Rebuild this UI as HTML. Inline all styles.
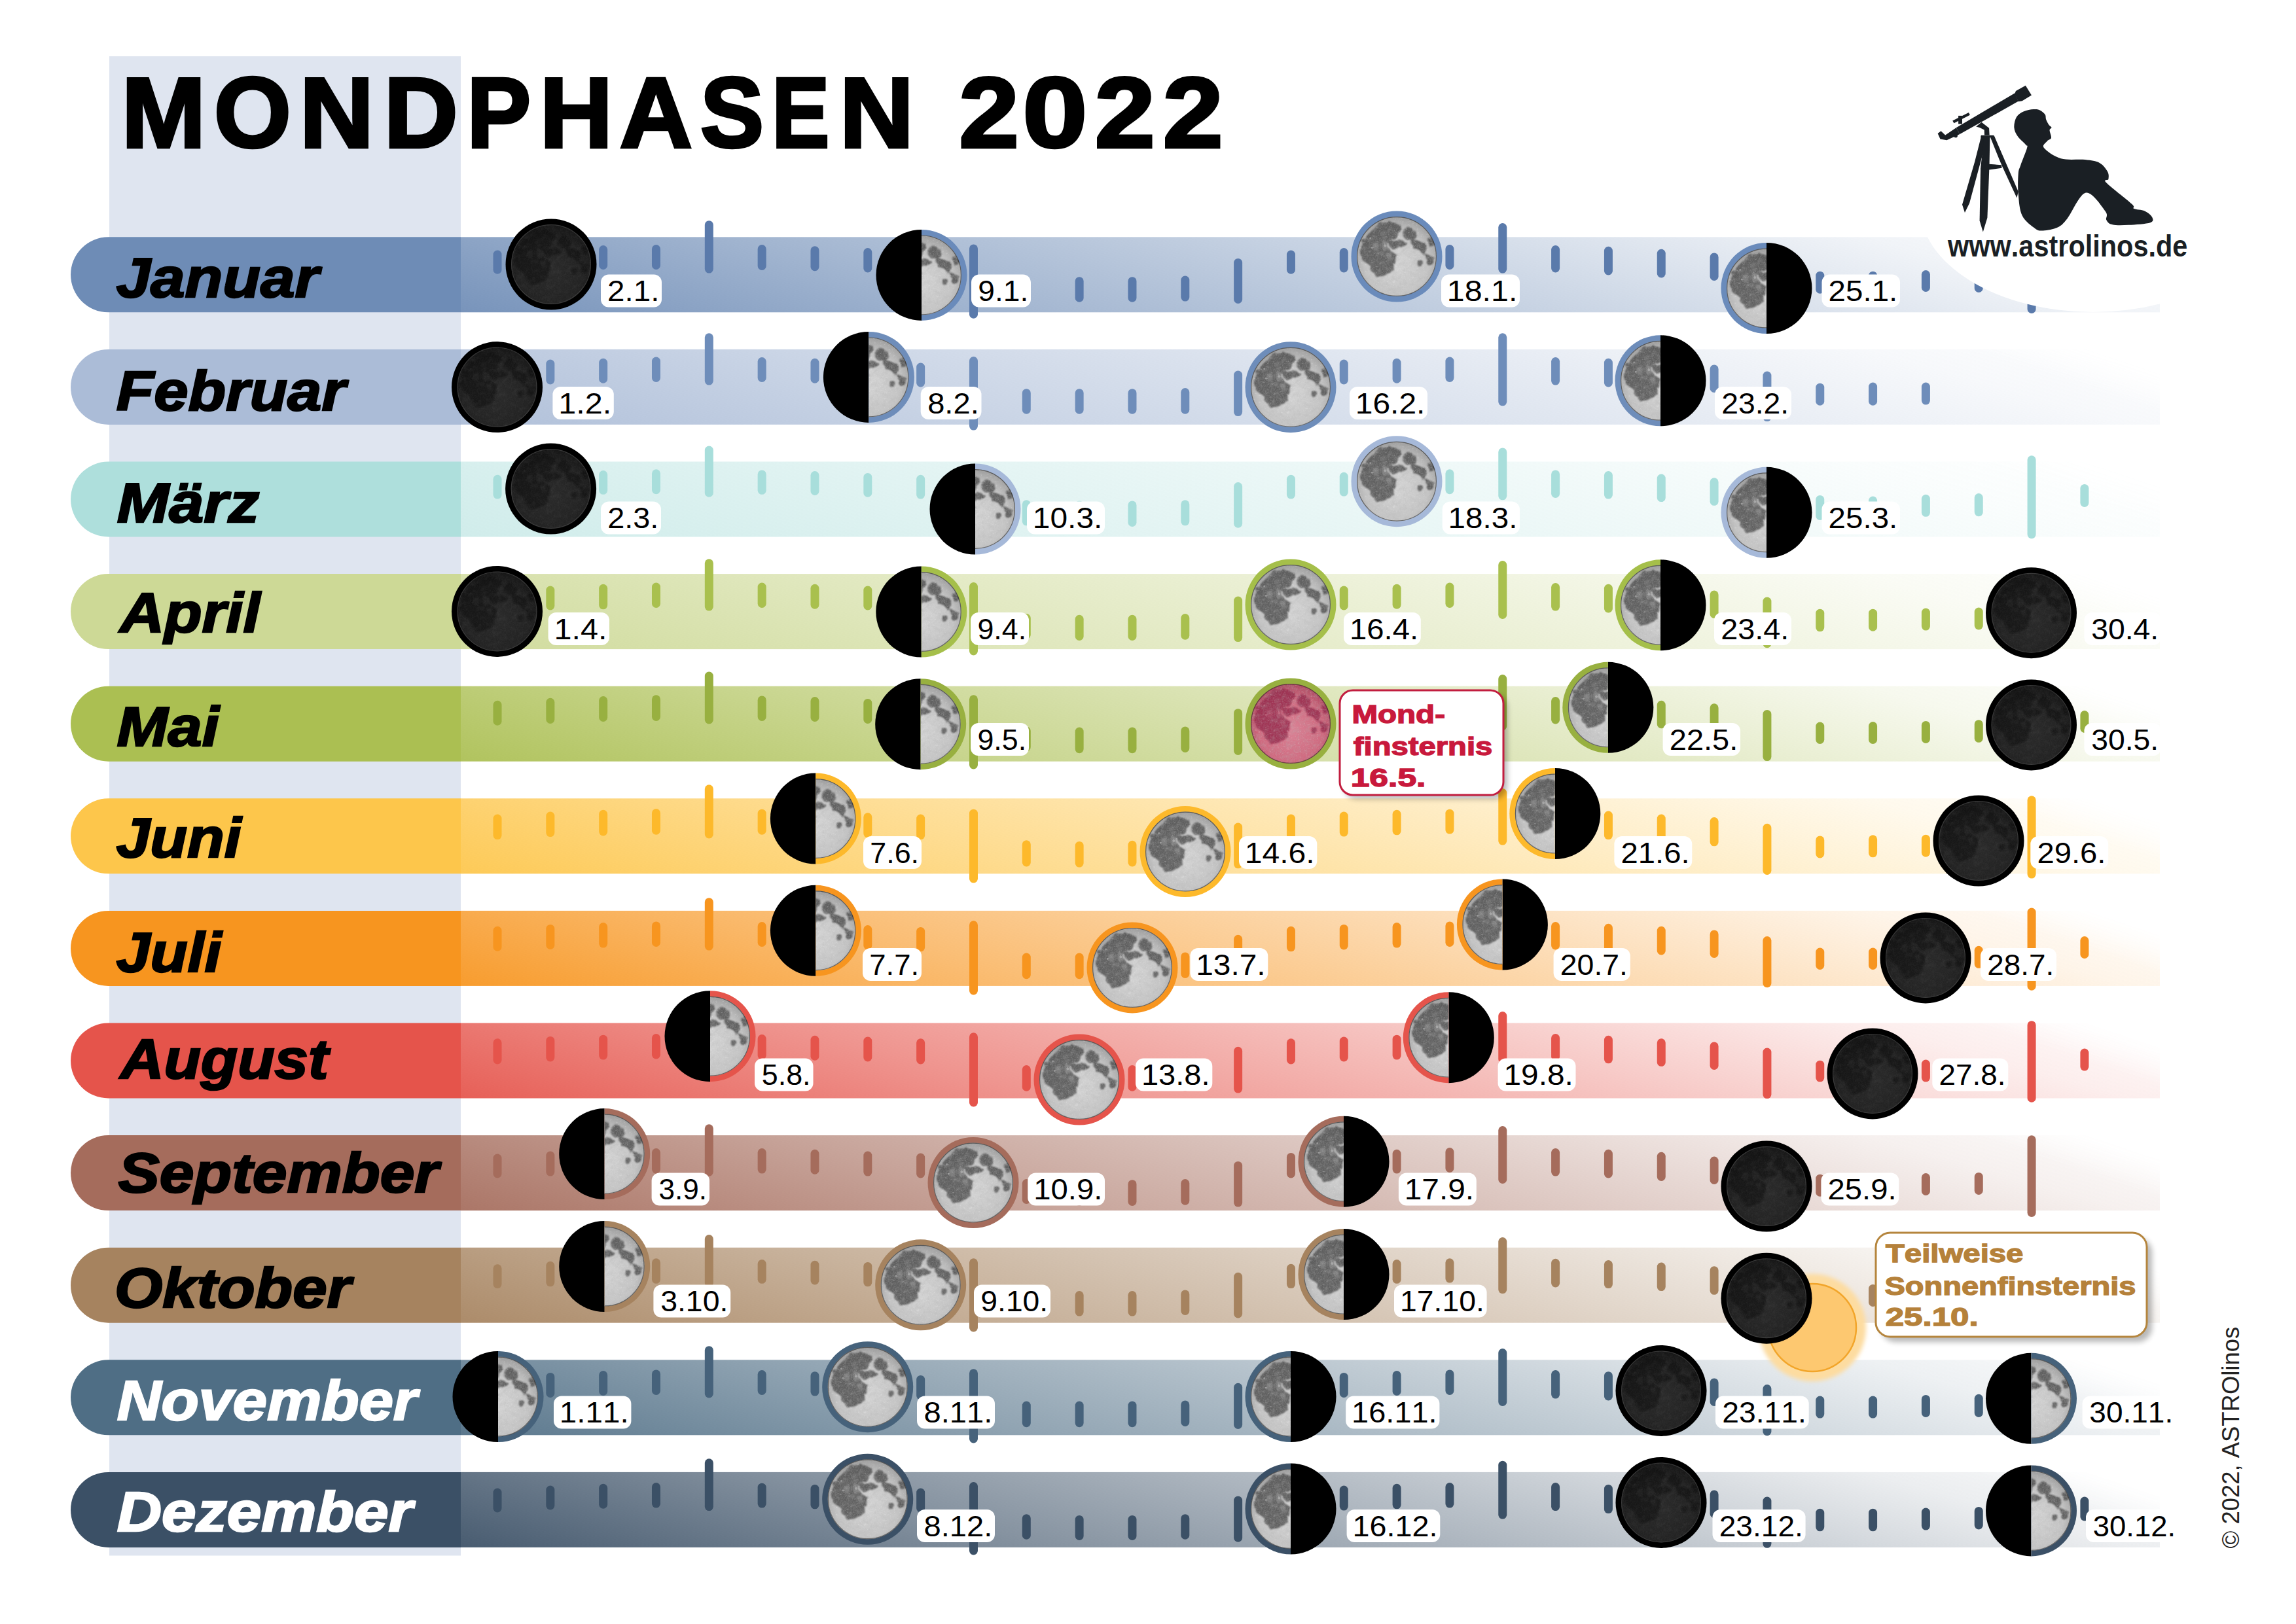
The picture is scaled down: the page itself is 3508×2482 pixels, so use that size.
<!DOCTYPE html><html><head><meta charset="utf-8"><style>html,body{margin:0;padding:0;background:#fff;overflow:hidden;width:3508px;height:2482px}svg{display:block}text{font-family:'Liberation Sans', sans-serif;font-kerning:none}</style></head><body>
<svg width="3508" height="2482" viewBox="0 0 3508 2482">
<defs>
<clipPath id="cmoon"><circle r="61.0"/></clipPath>
<clipPath id="chr"><rect x="0" y="-80" width="80" height="160"/></clipPath>
<clipPath id="chl"><rect x="-80" y="-80" width="80" height="160"/></clipPath>
<filter id="blur2" x="-20%" y="-20%" width="140%" height="140%"><feGaussianBlur stdDeviation="2.2"/></filter>
<filter id="blur05" x="-20%" y="-20%" width="140%" height="140%"><feGaussianBlur stdDeviation="0.6"/></filter>
<filter id="mare" x="-20%" y="-20%" width="140%" height="140%"><feTurbulence type="fractalNoise" baseFrequency="0.09" numOctaves="3" seed="7" result="t"/><feDisplacementMap in="SourceGraphic" in2="t" scale="9" xChannelSelector="R" yChannelSelector="G" result="d"/><feGaussianBlur in="d" stdDeviation="1.1"/></filter>
<filter id="noise2" x="0" y="0" width="100%" height="100%"><feTurbulence type="fractalNoise" baseFrequency="0.13" numOctaves="3" seed="11"/><feColorMatrix type="matrix" values="0 0 0 0 0.45  0 0 0 0 0.45  0 0 0 0 0.45  2.2 0 0 0 -0.95"/></filter>
<filter id="glowblur" x="-30%" y="-30%" width="160%" height="160%"><feGaussianBlur stdDeviation="3"/></filter>
<filter id="noise3" x="0" y="0" width="100%" height="100%"><feTurbulence type="fractalNoise" baseFrequency="0.35" numOctaves="2" seed="5"/><feColorMatrix type="matrix" values="0 0 0 0 1  0 0 0 0 1  0 0 0 0 1  5 0 0 0 -3.1"/></filter>
<filter id="blur1" x="-20%" y="-20%" width="140%" height="140%"><feGaussianBlur stdDeviation="1.8"/></filter>
<filter id="noise" x="0" y="0" width="100%" height="100%"><feTurbulence type="fractalNoise" baseFrequency="0.55" numOctaves="2" seed="3"/><feColorMatrix type="matrix" values="0 0 0 0 0.5  0 0 0 0 0.5  0 0 0 0 0.5  1.6 0 0 0 -0.55"/></filter>
<filter id="blur8" x="-50%" y="-50%" width="200%" height="200%"><feGaussianBlur stdDeviation="7"/></filter>
<filter id="shad" x="-10%" y="-10%" width="130%" height="140%"><feGaussianBlur stdDeviation="4"/></filter>
<radialGradient id="mtNg" cx="0.5" cy="0.58" r="0.56"><stop offset="0" stop-color="#d8d8d8"/><stop offset="0.72" stop-color="#c6c6c6"/><stop offset="1" stop-color="#a0a0a0"/></radialGradient><g id="mtN"><circle r="61.0" fill="url(#mtNg)"/><g clip-path="url(#cmoon)"><g filter="url(#mare)" fill="#4e4e4e" opacity="0.85"><path d="M-27.0,-48.6C-24.1,-49.9 -20.6,-51.3 -16.8,-51.8C-13.0,-52.3 -8.0,-52.4 -4.3,-51.8C-0.7,-51.1 3.2,-49.7 5.1,-47.9C7.0,-46.0 7.3,-43.2 7.0,-40.8C6.8,-38.5 4.9,-35.7 3.5,-33.8C2.2,-31.8 0.5,-30.4 -1.2,-29.1C-2.9,-27.8 -4.8,-27.0 -6.6,-26.0C-8.5,-24.9 -10.9,-24.4 -12.1,-22.8C-13.3,-21.3 -14.2,-18.8 -13.7,-16.6C-13.2,-14.4 -10.8,-11.6 -9.0,-9.5C-7.2,-7.5 -4.1,-6.2 -2.7,-4.1C-1.4,-2.0 -0.8,0.5 -0.8,3.0C-0.7,5.4 -1.8,8.2 -2.3,10.8C-2.9,13.4 -3.2,16.4 -4.3,18.6C-5.4,20.8 -7.2,22.8 -9.0,24.1C-10.8,25.3 -13.4,25.2 -15.2,26.0C-17.1,26.9 -18.1,28.5 -19.9,29.2C-21.8,29.9 -24.1,30.6 -26.2,30.3C-28.3,30.1 -30.6,28.9 -32.5,27.6C-34.3,26.3 -36.1,24.4 -37.1,22.5C-38.2,20.6 -37.5,18.2 -38.7,16.3C-39.9,14.4 -42.2,12.9 -44.2,11.2C-46.1,9.4 -48.7,8.3 -50.4,5.7C-52.1,3.2 -53.6,-0.5 -54.4,-4.1C-55.1,-7.7 -55.4,-12.4 -55.1,-15.8C-54.9,-19.2 -54.2,-21.9 -52.8,-24.4C-51.4,-26.9 -48.6,-28.4 -46.5,-30.7C-44.4,-32.9 -42.4,-35.5 -40.3,-37.7C-38.2,-39.9 -36.2,-42.1 -34.0,-44.0C-31.8,-45.8 -29.8,-47.3 -27.0,-48.6Z"/><path d="M11.3,-43.2C12.6,-45.0 15.9,-45.3 18.4,-44.7C20.9,-44.2 24.2,-42.1 26.2,-40.0C28.2,-38.0 29.7,-34.6 30.1,-32.2C30.5,-29.9 29.8,-27.3 28.5,-26.0C27.2,-24.7 24.6,-24.3 22.3,-24.4C19.9,-24.5 16.4,-25.2 14.5,-26.7C12.5,-28.3 11.1,-31.0 10.6,-33.8C10.0,-36.5 10.0,-41.3 11.3,-43.2Z"/><path d="M22.3,-24.4C23.7,-25.4 27.5,-26.2 30.1,-26.0C32.7,-25.7 35.6,-24.4 37.9,-22.8C40.3,-21.3 42.9,-18.9 44.2,-16.6C45.5,-14.2 46.1,-10.8 45.8,-8.8C45.4,-6.7 43.4,-4.6 41.8,-4.1C40.3,-3.5 38.1,-4.7 36.4,-5.6C34.7,-6.5 33.6,-8.0 31.7,-9.5C29.7,-11.1 26.3,-13.3 24.6,-15.0C22.9,-16.7 21.9,-18.1 21.5,-19.7C21.1,-21.3 20.9,-23.4 22.3,-24.4Z"/><path d="M48.1,-28.3C49.0,-29.9 52.0,-30.5 53.6,-29.9C55.1,-29.2 57.0,-26.5 57.5,-24.4C58.0,-22.3 57.6,-18.8 56.7,-17.4C55.8,-15.9 53.4,-15.3 52.0,-15.8C50.6,-16.3 48.7,-18.4 48.1,-20.5C47.4,-22.6 47.2,-26.7 48.1,-28.3Z"/><path d="M44.2,-4.8C45.0,-6.5 47.7,-4.6 49.7,-3.3C51.6,-2.0 55.0,0.6 55.9,3.0C56.8,5.3 56.2,9.1 55.1,10.8C54.1,12.5 51.4,13.8 49.7,13.1C48.0,12.5 45.9,9.9 45.0,6.9C44.1,3.9 43.4,-3.2 44.2,-4.8Z"/><path d="M33.2,5.3C34.4,4.7 37.4,4.4 38.7,5.3C40.0,6.2 41.2,9.1 41.1,10.8C40.9,12.5 39.2,15.0 37.9,15.5C36.6,16.0 34.3,15.0 33.2,13.9C32.2,12.9 31.7,10.7 31.7,9.2C31.7,7.8 32.1,6.0 33.2,5.3Z"/><path d="M-12.1,-22.8C-10.8,-24.4 -5.1,-24.4 -1.2,-24.4C2.7,-24.4 8.9,-23.9 11.3,-22.8C13.8,-21.8 14.5,-19.7 13.7,-18.1C12.9,-16.6 9.1,-14.4 6.6,-13.5C4.2,-12.5 1.4,-12.4 -1.2,-12.7C-3.8,-12.9 -7.2,-13.3 -9.0,-15.0C-10.8,-16.7 -13.4,-21.3 -12.1,-22.8Z"/></g><g filter="url(#blur1)" fill="#a8a8a8" opacity="0.4"><path d="M-23.1,-21.3C-22.0,-23.1 -17.3,-23.6 -15.2,-22.8C-13.2,-22.1 -10.8,-18.7 -10.6,-16.6C-10.3,-14.5 -11.9,-11.1 -13.7,-10.3C-15.5,-9.5 -19.9,-10.1 -21.5,-11.9C-23.1,-13.7 -24.1,-19.4 -23.1,-21.3Z"/><path d="M-35.6,-19.7C-34.4,-21.1 -30.8,-22.3 -29.3,-21.3C-27.9,-20.2 -26.5,-15.5 -27.0,-13.5C-27.5,-11.4 -30.9,-8.9 -32.5,-8.8C-34.0,-8.6 -35.8,-10.8 -36.4,-12.7C-36.9,-14.5 -36.8,-18.3 -35.6,-19.7Z"/><path d="M-16.8,-4.1C-16.0,-5.6 -10.6,-6.4 -9.0,-5.6C-7.4,-4.8 -6.6,-0.9 -7.4,0.6C-8.2,2.2 -12.1,4.5 -13.7,3.8C-15.2,3.0 -17.6,-2.5 -16.8,-4.1Z"/></g><circle cx="-4.3" cy="38.2" r="2.2" fill="#d8d8d8" opacity="0.8"/><circle cx="-17.7" cy="-16.5" r="2.0" fill="#d8d8d8" opacity="0.45" filter="url(#blur05)"/><circle cx="-37.8" cy="-13.4" r="1.4" fill="#d8d8d8" opacity="0.45" filter="url(#blur05)"/><circle cx="-40.3" cy="-28.1" r="1.3" fill="#d8d8d8" opacity="0.45" filter="url(#blur05)"/><circle cx="6.1" cy="1.2" r="1.2" fill="#d8d8d8" opacity="0.45" filter="url(#blur05)"/><circle cx="21.3" cy="12.2" r="1.0" fill="#d8d8d8" opacity="0.45" filter="url(#blur05)"/><rect x="-62" y="-62" width="124" height="124" filter="url(#noise)" opacity="0.3"/><rect x="-62" y="-62" width="124" height="124" filter="url(#noise2)" opacity="0.3"/><rect x="-62" y="-62" width="124" height="124" filter="url(#noise3)" opacity="0.18"/></g><circle r="60.4" fill="none" stroke="#111" stroke-opacity="0.5" stroke-width="1.2"/></g>
<radialGradient id="mtDg" cx="0.5" cy="0.58" r="0.56"><stop offset="0" stop-color="#2a2a2a"/><stop offset="0.72" stop-color="#232323"/><stop offset="1" stop-color="#171717"/></radialGradient><g id="mtD"><circle r="61.0" fill="url(#mtDg)"/><g clip-path="url(#cmoon)"><g filter="url(#mare)" fill="#0e0e0e" opacity="0.5"><path d="M-27.0,-48.6C-24.1,-49.9 -20.6,-51.3 -16.8,-51.8C-13.0,-52.3 -8.0,-52.4 -4.3,-51.8C-0.7,-51.1 3.2,-49.7 5.1,-47.9C7.0,-46.0 7.3,-43.2 7.0,-40.8C6.8,-38.5 4.9,-35.7 3.5,-33.8C2.2,-31.8 0.5,-30.4 -1.2,-29.1C-2.9,-27.8 -4.8,-27.0 -6.6,-26.0C-8.5,-24.9 -10.9,-24.4 -12.1,-22.8C-13.3,-21.3 -14.2,-18.8 -13.7,-16.6C-13.2,-14.4 -10.8,-11.6 -9.0,-9.5C-7.2,-7.5 -4.1,-6.2 -2.7,-4.1C-1.4,-2.0 -0.8,0.5 -0.8,3.0C-0.7,5.4 -1.8,8.2 -2.3,10.8C-2.9,13.4 -3.2,16.4 -4.3,18.6C-5.4,20.8 -7.2,22.8 -9.0,24.1C-10.8,25.3 -13.4,25.2 -15.2,26.0C-17.1,26.9 -18.1,28.5 -19.9,29.2C-21.8,29.9 -24.1,30.6 -26.2,30.3C-28.3,30.1 -30.6,28.9 -32.5,27.6C-34.3,26.3 -36.1,24.4 -37.1,22.5C-38.2,20.6 -37.5,18.2 -38.7,16.3C-39.9,14.4 -42.2,12.9 -44.2,11.2C-46.1,9.4 -48.7,8.3 -50.4,5.7C-52.1,3.2 -53.6,-0.5 -54.4,-4.1C-55.1,-7.7 -55.4,-12.4 -55.1,-15.8C-54.9,-19.2 -54.2,-21.9 -52.8,-24.4C-51.4,-26.9 -48.6,-28.4 -46.5,-30.7C-44.4,-32.9 -42.4,-35.5 -40.3,-37.7C-38.2,-39.9 -36.2,-42.1 -34.0,-44.0C-31.8,-45.8 -29.8,-47.3 -27.0,-48.6Z"/><path d="M11.3,-43.2C12.6,-45.0 15.9,-45.3 18.4,-44.7C20.9,-44.2 24.2,-42.1 26.2,-40.0C28.2,-38.0 29.7,-34.6 30.1,-32.2C30.5,-29.9 29.8,-27.3 28.5,-26.0C27.2,-24.7 24.6,-24.3 22.3,-24.4C19.9,-24.5 16.4,-25.2 14.5,-26.7C12.5,-28.3 11.1,-31.0 10.6,-33.8C10.0,-36.5 10.0,-41.3 11.3,-43.2Z"/><path d="M22.3,-24.4C23.7,-25.4 27.5,-26.2 30.1,-26.0C32.7,-25.7 35.6,-24.4 37.9,-22.8C40.3,-21.3 42.9,-18.9 44.2,-16.6C45.5,-14.2 46.1,-10.8 45.8,-8.8C45.4,-6.7 43.4,-4.6 41.8,-4.1C40.3,-3.5 38.1,-4.7 36.4,-5.6C34.7,-6.5 33.6,-8.0 31.7,-9.5C29.7,-11.1 26.3,-13.3 24.6,-15.0C22.9,-16.7 21.9,-18.1 21.5,-19.7C21.1,-21.3 20.9,-23.4 22.3,-24.4Z"/><path d="M48.1,-28.3C49.0,-29.9 52.0,-30.5 53.6,-29.9C55.1,-29.2 57.0,-26.5 57.5,-24.4C58.0,-22.3 57.6,-18.8 56.7,-17.4C55.8,-15.9 53.4,-15.3 52.0,-15.8C50.6,-16.3 48.7,-18.4 48.1,-20.5C47.4,-22.6 47.2,-26.7 48.1,-28.3Z"/><path d="M44.2,-4.8C45.0,-6.5 47.7,-4.6 49.7,-3.3C51.6,-2.0 55.0,0.6 55.9,3.0C56.8,5.3 56.2,9.1 55.1,10.8C54.1,12.5 51.4,13.8 49.7,13.1C48.0,12.5 45.9,9.9 45.0,6.9C44.1,3.9 43.4,-3.2 44.2,-4.8Z"/><path d="M33.2,5.3C34.4,4.7 37.4,4.4 38.7,5.3C40.0,6.2 41.2,9.1 41.1,10.8C40.9,12.5 39.2,15.0 37.9,15.5C36.6,16.0 34.3,15.0 33.2,13.9C32.2,12.9 31.7,10.7 31.7,9.2C31.7,7.8 32.1,6.0 33.2,5.3Z"/><path d="M-12.1,-22.8C-10.8,-24.4 -5.1,-24.4 -1.2,-24.4C2.7,-24.4 8.9,-23.9 11.3,-22.8C13.8,-21.8 14.5,-19.7 13.7,-18.1C12.9,-16.6 9.1,-14.4 6.6,-13.5C4.2,-12.5 1.4,-12.4 -1.2,-12.7C-3.8,-12.9 -7.2,-13.3 -9.0,-15.0C-10.8,-16.7 -13.4,-21.3 -12.1,-22.8Z"/></g><g filter="url(#blur1)" fill="#2e2e2e" opacity="0.4"><path d="M-23.1,-21.3C-22.0,-23.1 -17.3,-23.6 -15.2,-22.8C-13.2,-22.1 -10.8,-18.7 -10.6,-16.6C-10.3,-14.5 -11.9,-11.1 -13.7,-10.3C-15.5,-9.5 -19.9,-10.1 -21.5,-11.9C-23.1,-13.7 -24.1,-19.4 -23.1,-21.3Z"/><path d="M-35.6,-19.7C-34.4,-21.1 -30.8,-22.3 -29.3,-21.3C-27.9,-20.2 -26.5,-15.5 -27.0,-13.5C-27.5,-11.4 -30.9,-8.9 -32.5,-8.8C-34.0,-8.6 -35.8,-10.8 -36.4,-12.7C-36.9,-14.5 -36.8,-18.3 -35.6,-19.7Z"/><path d="M-16.8,-4.1C-16.0,-5.6 -10.6,-6.4 -9.0,-5.6C-7.4,-4.8 -6.6,-0.9 -7.4,0.6C-8.2,2.2 -12.1,4.5 -13.7,3.8C-15.2,3.0 -17.6,-2.5 -16.8,-4.1Z"/></g><circle cx="-4.3" cy="38.2" r="2.2" fill="#2a2a2a" opacity="0.8"/><circle cx="-17.7" cy="-16.5" r="2.0" fill="#2a2a2a" opacity="0.45" filter="url(#blur05)"/><circle cx="-37.8" cy="-13.4" r="1.4" fill="#2a2a2a" opacity="0.45" filter="url(#blur05)"/><circle cx="-40.3" cy="-28.1" r="1.3" fill="#2a2a2a" opacity="0.45" filter="url(#blur05)"/><circle cx="6.1" cy="1.2" r="1.2" fill="#2a2a2a" opacity="0.45" filter="url(#blur05)"/><circle cx="21.3" cy="12.2" r="1.0" fill="#2a2a2a" opacity="0.45" filter="url(#blur05)"/><rect x="-62" y="-62" width="124" height="124" filter="url(#noise)" opacity="0.06"/><rect x="-62" y="-62" width="124" height="124" filter="url(#noise2)" opacity="0.06"/></g><circle r="60.4" fill="none" stroke="#555" stroke-opacity="0.5" stroke-width="1.2"/></g>
<radialGradient id="mtRg" cx="0.5" cy="0.58" r="0.56"><stop offset="0" stop-color="#dc8094"/><stop offset="0.72" stop-color="#d0687e"/><stop offset="1" stop-color="#b04a62"/></radialGradient><g id="mtR"><circle r="61.0" fill="url(#mtRg)"/><g clip-path="url(#cmoon)"><g filter="url(#mare)" fill="#94284a" opacity="0.8"><path d="M-27.0,-48.6C-24.1,-49.9 -20.6,-51.3 -16.8,-51.8C-13.0,-52.3 -8.0,-52.4 -4.3,-51.8C-0.7,-51.1 3.2,-49.7 5.1,-47.9C7.0,-46.0 7.3,-43.2 7.0,-40.8C6.8,-38.5 4.9,-35.7 3.5,-33.8C2.2,-31.8 0.5,-30.4 -1.2,-29.1C-2.9,-27.8 -4.8,-27.0 -6.6,-26.0C-8.5,-24.9 -10.9,-24.4 -12.1,-22.8C-13.3,-21.3 -14.2,-18.8 -13.7,-16.6C-13.2,-14.4 -10.8,-11.6 -9.0,-9.5C-7.2,-7.5 -4.1,-6.2 -2.7,-4.1C-1.4,-2.0 -0.8,0.5 -0.8,3.0C-0.7,5.4 -1.8,8.2 -2.3,10.8C-2.9,13.4 -3.2,16.4 -4.3,18.6C-5.4,20.8 -7.2,22.8 -9.0,24.1C-10.8,25.3 -13.4,25.2 -15.2,26.0C-17.1,26.9 -18.1,28.5 -19.9,29.2C-21.8,29.9 -24.1,30.6 -26.2,30.3C-28.3,30.1 -30.6,28.9 -32.5,27.6C-34.3,26.3 -36.1,24.4 -37.1,22.5C-38.2,20.6 -37.5,18.2 -38.7,16.3C-39.9,14.4 -42.2,12.9 -44.2,11.2C-46.1,9.4 -48.7,8.3 -50.4,5.7C-52.1,3.2 -53.6,-0.5 -54.4,-4.1C-55.1,-7.7 -55.4,-12.4 -55.1,-15.8C-54.9,-19.2 -54.2,-21.9 -52.8,-24.4C-51.4,-26.9 -48.6,-28.4 -46.5,-30.7C-44.4,-32.9 -42.4,-35.5 -40.3,-37.7C-38.2,-39.9 -36.2,-42.1 -34.0,-44.0C-31.8,-45.8 -29.8,-47.3 -27.0,-48.6Z"/><path d="M11.3,-43.2C12.6,-45.0 15.9,-45.3 18.4,-44.7C20.9,-44.2 24.2,-42.1 26.2,-40.0C28.2,-38.0 29.7,-34.6 30.1,-32.2C30.5,-29.9 29.8,-27.3 28.5,-26.0C27.2,-24.7 24.6,-24.3 22.3,-24.4C19.9,-24.5 16.4,-25.2 14.5,-26.7C12.5,-28.3 11.1,-31.0 10.6,-33.8C10.0,-36.5 10.0,-41.3 11.3,-43.2Z"/><path d="M22.3,-24.4C23.7,-25.4 27.5,-26.2 30.1,-26.0C32.7,-25.7 35.6,-24.4 37.9,-22.8C40.3,-21.3 42.9,-18.9 44.2,-16.6C45.5,-14.2 46.1,-10.8 45.8,-8.8C45.4,-6.7 43.4,-4.6 41.8,-4.1C40.3,-3.5 38.1,-4.7 36.4,-5.6C34.7,-6.5 33.6,-8.0 31.7,-9.5C29.7,-11.1 26.3,-13.3 24.6,-15.0C22.9,-16.7 21.9,-18.1 21.5,-19.7C21.1,-21.3 20.9,-23.4 22.3,-24.4Z"/><path d="M48.1,-28.3C49.0,-29.9 52.0,-30.5 53.6,-29.9C55.1,-29.2 57.0,-26.5 57.5,-24.4C58.0,-22.3 57.6,-18.8 56.7,-17.4C55.8,-15.9 53.4,-15.3 52.0,-15.8C50.6,-16.3 48.7,-18.4 48.1,-20.5C47.4,-22.6 47.2,-26.7 48.1,-28.3Z"/><path d="M44.2,-4.8C45.0,-6.5 47.7,-4.6 49.7,-3.3C51.6,-2.0 55.0,0.6 55.9,3.0C56.8,5.3 56.2,9.1 55.1,10.8C54.1,12.5 51.4,13.8 49.7,13.1C48.0,12.5 45.9,9.9 45.0,6.9C44.1,3.9 43.4,-3.2 44.2,-4.8Z"/><path d="M33.2,5.3C34.4,4.7 37.4,4.4 38.7,5.3C40.0,6.2 41.2,9.1 41.1,10.8C40.9,12.5 39.2,15.0 37.9,15.5C36.6,16.0 34.3,15.0 33.2,13.9C32.2,12.9 31.7,10.7 31.7,9.2C31.7,7.8 32.1,6.0 33.2,5.3Z"/><path d="M-12.1,-22.8C-10.8,-24.4 -5.1,-24.4 -1.2,-24.4C2.7,-24.4 8.9,-23.9 11.3,-22.8C13.8,-21.8 14.5,-19.7 13.7,-18.1C12.9,-16.6 9.1,-14.4 6.6,-13.5C4.2,-12.5 1.4,-12.4 -1.2,-12.7C-3.8,-12.9 -7.2,-13.3 -9.0,-15.0C-10.8,-16.7 -13.4,-21.3 -12.1,-22.8Z"/></g><g filter="url(#blur1)" fill="#c06078" opacity="0.4"><path d="M-23.1,-21.3C-22.0,-23.1 -17.3,-23.6 -15.2,-22.8C-13.2,-22.1 -10.8,-18.7 -10.6,-16.6C-10.3,-14.5 -11.9,-11.1 -13.7,-10.3C-15.5,-9.5 -19.9,-10.1 -21.5,-11.9C-23.1,-13.7 -24.1,-19.4 -23.1,-21.3Z"/><path d="M-35.6,-19.7C-34.4,-21.1 -30.8,-22.3 -29.3,-21.3C-27.9,-20.2 -26.5,-15.5 -27.0,-13.5C-27.5,-11.4 -30.9,-8.9 -32.5,-8.8C-34.0,-8.6 -35.8,-10.8 -36.4,-12.7C-36.9,-14.5 -36.8,-18.3 -35.6,-19.7Z"/><path d="M-16.8,-4.1C-16.0,-5.6 -10.6,-6.4 -9.0,-5.6C-7.4,-4.8 -6.6,-0.9 -7.4,0.6C-8.2,2.2 -12.1,4.5 -13.7,3.8C-15.2,3.0 -17.6,-2.5 -16.8,-4.1Z"/></g><circle cx="-4.3" cy="38.2" r="2.2" fill="#dc8094" opacity="0.8"/><circle cx="-17.7" cy="-16.5" r="2.0" fill="#dc8094" opacity="0.45" filter="url(#blur05)"/><circle cx="-37.8" cy="-13.4" r="1.4" fill="#dc8094" opacity="0.45" filter="url(#blur05)"/><circle cx="-40.3" cy="-28.1" r="1.3" fill="#dc8094" opacity="0.45" filter="url(#blur05)"/><circle cx="6.1" cy="1.2" r="1.2" fill="#dc8094" opacity="0.45" filter="url(#blur05)"/><circle cx="21.3" cy="12.2" r="1.0" fill="#dc8094" opacity="0.45" filter="url(#blur05)"/><rect x="-62" y="-62" width="124" height="124" filter="url(#noise)" opacity="0.25"/><rect x="-62" y="-62" width="124" height="124" filter="url(#noise2)" opacity="0.25"/><rect x="-62" y="-62" width="124" height="124" filter="url(#noise3)" opacity="0.18"/></g><circle r="60.4" fill="none" stroke="#111" stroke-opacity="0.5" stroke-width="1.2"/></g>
<linearGradient id="bg0" gradientUnits="userSpaceOnUse" x1="704" y1="477.3" x2="930.3" y2="-314.76"><stop offset="0" stop-color="#6e8cb6" stop-opacity="0.930"/><stop offset="0.3" stop-color="#6e8cb6" stop-opacity="0.620"/><stop offset="0.6" stop-color="#6e8cb6" stop-opacity="0.340"/><stop offset="0.85" stop-color="#6e8cb6" stop-opacity="0.100"/><stop offset="1.0" stop-color="#6e8cb6" stop-opacity="0.020"/></linearGradient>
<linearGradient id="bg1" gradientUnits="userSpaceOnUse" x1="704" y1="648.9" x2="930.3" y2="-143.16"><stop offset="0" stop-color="#abbcd7" stop-opacity="0.930"/><stop offset="0.3" stop-color="#abbcd7" stop-opacity="0.620"/><stop offset="0.6" stop-color="#abbcd7" stop-opacity="0.340"/><stop offset="0.85" stop-color="#abbcd7" stop-opacity="0.100"/><stop offset="1.0" stop-color="#abbcd7" stop-opacity="0.020"/></linearGradient>
<linearGradient id="bg2" gradientUnits="userSpaceOnUse" x1="704" y1="820.5" x2="930.3" y2="28.44"><stop offset="0" stop-color="#aedfdc" stop-opacity="0.577"/><stop offset="0.3" stop-color="#aedfdc" stop-opacity="0.384"/><stop offset="0.6" stop-color="#aedfdc" stop-opacity="0.211"/><stop offset="0.85" stop-color="#aedfdc" stop-opacity="0.062"/><stop offset="1.0" stop-color="#aedfdc" stop-opacity="0.012"/></linearGradient>
<linearGradient id="bg3" gradientUnits="userSpaceOnUse" x1="704" y1="992.1" x2="930.3" y2="200.04"><stop offset="0" stop-color="#cdd996" stop-opacity="0.930"/><stop offset="0.3" stop-color="#cdd996" stop-opacity="0.620"/><stop offset="0.6" stop-color="#cdd996" stop-opacity="0.340"/><stop offset="0.85" stop-color="#cdd996" stop-opacity="0.100"/><stop offset="1.0" stop-color="#cdd996" stop-opacity="0.020"/></linearGradient>
<linearGradient id="bg4" gradientUnits="userSpaceOnUse" x1="704" y1="1163.7" x2="930.3" y2="371.64"><stop offset="0" stop-color="#abbf52" stop-opacity="0.930"/><stop offset="0.3" stop-color="#abbf52" stop-opacity="0.620"/><stop offset="0.6" stop-color="#abbf52" stop-opacity="0.340"/><stop offset="0.85" stop-color="#abbf52" stop-opacity="0.100"/><stop offset="1.0" stop-color="#abbf52" stop-opacity="0.020"/></linearGradient>
<linearGradient id="bg5" gradientUnits="userSpaceOnUse" x1="704" y1="1335.3" x2="930.3" y2="543.24"><stop offset="0" stop-color="#fdc64b" stop-opacity="0.930"/><stop offset="0.3" stop-color="#fdc64b" stop-opacity="0.620"/><stop offset="0.6" stop-color="#fdc64b" stop-opacity="0.340"/><stop offset="0.85" stop-color="#fdc64b" stop-opacity="0.100"/><stop offset="1.0" stop-color="#fdc64b" stop-opacity="0.020"/></linearGradient>
<linearGradient id="bg6" gradientUnits="userSpaceOnUse" x1="704" y1="1506.9" x2="930.3" y2="714.84"><stop offset="0" stop-color="#f7951f" stop-opacity="0.930"/><stop offset="0.3" stop-color="#f7951f" stop-opacity="0.620"/><stop offset="0.6" stop-color="#f7951f" stop-opacity="0.340"/><stop offset="0.85" stop-color="#f7951f" stop-opacity="0.100"/><stop offset="1.0" stop-color="#f7951f" stop-opacity="0.020"/></linearGradient>
<linearGradient id="bg7" gradientUnits="userSpaceOnUse" x1="704" y1="1678.5" x2="930.3" y2="886.44"><stop offset="0" stop-color="#e5544b" stop-opacity="0.930"/><stop offset="0.3" stop-color="#e5544b" stop-opacity="0.620"/><stop offset="0.6" stop-color="#e5544b" stop-opacity="0.340"/><stop offset="0.85" stop-color="#e5544b" stop-opacity="0.100"/><stop offset="1.0" stop-color="#e5544b" stop-opacity="0.020"/></linearGradient>
<linearGradient id="bg8" gradientUnits="userSpaceOnUse" x1="704" y1="1850.1" x2="930.3" y2="1058.04"><stop offset="0" stop-color="#a56c5c" stop-opacity="0.930"/><stop offset="0.3" stop-color="#a56c5c" stop-opacity="0.620"/><stop offset="0.6" stop-color="#a56c5c" stop-opacity="0.340"/><stop offset="0.85" stop-color="#a56c5c" stop-opacity="0.100"/><stop offset="1.0" stop-color="#a56c5c" stop-opacity="0.020"/></linearGradient>
<linearGradient id="bg9" gradientUnits="userSpaceOnUse" x1="704" y1="2021.7" x2="930.3" y2="1229.64"><stop offset="0" stop-color="#a6835f" stop-opacity="0.930"/><stop offset="0.3" stop-color="#a6835f" stop-opacity="0.620"/><stop offset="0.6" stop-color="#a6835f" stop-opacity="0.340"/><stop offset="0.85" stop-color="#a6835f" stop-opacity="0.100"/><stop offset="1.0" stop-color="#a6835f" stop-opacity="0.020"/></linearGradient>
<linearGradient id="bg10" gradientUnits="userSpaceOnUse" x1="704" y1="2193.3" x2="930.3" y2="1401.24"><stop offset="0" stop-color="#4f6e85" stop-opacity="0.930"/><stop offset="0.3" stop-color="#4f6e85" stop-opacity="0.620"/><stop offset="0.6" stop-color="#4f6e85" stop-opacity="0.340"/><stop offset="0.85" stop-color="#4f6e85" stop-opacity="0.100"/><stop offset="1.0" stop-color="#4f6e85" stop-opacity="0.020"/></linearGradient>
<linearGradient id="bg11" gradientUnits="userSpaceOnUse" x1="704" y1="2364.9" x2="930.3" y2="1572.84"><stop offset="0" stop-color="#3b5066" stop-opacity="0.930"/><stop offset="0.3" stop-color="#3b5066" stop-opacity="0.620"/><stop offset="0.6" stop-color="#3b5066" stop-opacity="0.340"/><stop offset="0.85" stop-color="#3b5066" stop-opacity="0.100"/><stop offset="1.0" stop-color="#3b5066" stop-opacity="0.020"/></linearGradient>
<radialGradient id="sunglow"><stop offset="0.78" stop-color="#fdd890" stop-opacity="0.75"/><stop offset="0.9" stop-color="#fde3b4" stop-opacity="0.55"/><stop offset="1" stop-color="#fef0d8" stop-opacity="0"/></radialGradient>
</defs>
<rect width="3508" height="2482" fill="#fff"/>
<rect x="167" y="86" width="537" height="2291.5" fill="#dfe5f0"/>
<text transform="translate(185.67,225.15) scale(1.0200,1)" font-size="151.31" font-weight="bold" font-style="normal" fill="#000" stroke="#000" stroke-width="4.5" stroke-linejoin="miter" stroke-miterlimit="3" >M</text>
<text transform="translate(327.04,225.15) scale(1.0006,1)" font-size="151.31" font-weight="bold" font-style="normal" fill="#000" stroke="#000" stroke-width="4.5" stroke-linejoin="miter" stroke-miterlimit="3" >O</text>
<text transform="translate(457.83,225.15) scale(1.0380,1)" font-size="151.31" font-weight="bold" font-style="normal" fill="#000" stroke="#000" stroke-width="4.5" stroke-linejoin="miter" stroke-miterlimit="3" >N</text>
<text transform="translate(586.54,225.15) scale(1.0360,1)" font-size="151.31" font-weight="bold" font-style="normal" fill="#000" stroke="#000" stroke-width="4.5" stroke-linejoin="miter" stroke-miterlimit="3" >D</text>
<text transform="translate(713.37,225.15) scale(0.9697,1)" font-size="151.31" font-weight="bold" font-style="normal" fill="#000" stroke="#000" stroke-width="4.5" stroke-linejoin="miter" stroke-miterlimit="3" >P</text>
<text transform="translate(824.67,225.15) scale(1.0198,1)" font-size="151.31" font-weight="bold" font-style="normal" fill="#000" stroke="#000" stroke-width="4.5" stroke-linejoin="miter" stroke-miterlimit="3" >H</text>
<text transform="translate(946.76,225.15) scale(1.0159,1)" font-size="151.31" font-weight="bold" font-style="normal" fill="#000" stroke="#000" stroke-width="4.5" stroke-linejoin="miter" stroke-miterlimit="3" >A</text>
<text transform="translate(1069.97,225.15) scale(0.9616,1)" font-size="151.31" font-weight="bold" font-style="normal" fill="#000" stroke="#000" stroke-width="4.5" stroke-linejoin="miter" stroke-miterlimit="3" >S</text>
<text transform="translate(1179.13,225.15) scale(0.8726,1)" font-size="151.31" font-weight="bold" font-style="normal" fill="#000" stroke="#000" stroke-width="4.5" stroke-linejoin="miter" stroke-miterlimit="3" >E</text>
<text transform="translate(1282.83,225.15) scale(1.0380,1)" font-size="151.31" font-weight="bold" font-style="normal" fill="#000" stroke="#000" stroke-width="4.5" stroke-linejoin="miter" stroke-miterlimit="3" >N</text>
<text transform="translate(1465.24,225.15) scale(1.0886,1)" font-size="151.31" font-weight="bold" font-style="normal" fill="#000" stroke="#000" stroke-width="4.5" stroke-linejoin="miter" stroke-miterlimit="3" >2</text>
<text transform="translate(1562.62,225.15) scale(1.1719,1)" font-size="151.31" font-weight="bold" font-style="normal" fill="#000" stroke="#000" stroke-width="4.5" stroke-linejoin="miter" stroke-miterlimit="3" >0</text>
<text transform="translate(1672.73,225.15) scale(1.0925,1)" font-size="151.31" font-weight="bold" font-style="normal" fill="#000" stroke="#000" stroke-width="4.5" stroke-linejoin="miter" stroke-miterlimit="3" >2</text>
<text transform="translate(1776.73,225.15) scale(1.0912,1)" font-size="151.31" font-weight="bold" font-style="normal" fill="#000" stroke="#000" stroke-width="4.5" stroke-linejoin="miter" stroke-miterlimit="3" >2</text>
<path d="M704,362.3 H165.5 A57.5,57.5 0 0 0 165.5,477.3 H704 Z" fill="#6e8cb6"/>
<linearGradient id="mg0" gradientUnits="userSpaceOnUse" x1="3195.02" y1="421.32" x2="3212.98" y2="368.28"><stop offset="0" stop-color="#fff"/><stop offset="1" stop-color="#000"/></linearGradient>
<mask id="mk0" maskUnits="userSpaceOnUse" x="700" y="357.3" width="2610" height="125"><rect x="700" y="357.3" width="2610" height="125" fill="url(#mg0)"/></mask>
<rect x="704" y="362.3" width="2596" height="115" fill="url(#bg0)" mask="url(#mk0)"/>
<path d="M704,533.9 H165.5 A57.5,57.5 0 0 0 165.5,648.9 H704 Z" fill="#abbcd7"/>
<linearGradient id="mg1" gradientUnits="userSpaceOnUse" x1="3195.02" y1="592.92" x2="3212.98" y2="539.88"><stop offset="0" stop-color="#fff"/><stop offset="1" stop-color="#000"/></linearGradient>
<mask id="mk1" maskUnits="userSpaceOnUse" x="700" y="528.9" width="2610" height="125"><rect x="700" y="528.9" width="2610" height="125" fill="url(#mg1)"/></mask>
<rect x="704" y="533.9" width="2596" height="115" fill="url(#bg1)" mask="url(#mk1)"/>
<path d="M704,705.5 H165.5 A57.5,57.5 0 0 0 165.5,820.5 H704 Z" fill="#aedfdc"/>
<linearGradient id="mg2" gradientUnits="userSpaceOnUse" x1="3195.02" y1="764.52" x2="3212.98" y2="711.48"><stop offset="0" stop-color="#fff"/><stop offset="1" stop-color="#000"/></linearGradient>
<mask id="mk2" maskUnits="userSpaceOnUse" x="700" y="700.5" width="2610" height="125"><rect x="700" y="700.5" width="2610" height="125" fill="url(#mg2)"/></mask>
<rect x="704" y="705.5" width="2596" height="115" fill="url(#bg2)" mask="url(#mk2)"/>
<path d="M704,877.1 H165.5 A57.5,57.5 0 0 0 165.5,992.1 H704 Z" fill="#cdd996"/>
<linearGradient id="mg3" gradientUnits="userSpaceOnUse" x1="3195.02" y1="936.12" x2="3212.98" y2="883.08"><stop offset="0" stop-color="#fff"/><stop offset="1" stop-color="#000"/></linearGradient>
<mask id="mk3" maskUnits="userSpaceOnUse" x="700" y="872.1" width="2610" height="125"><rect x="700" y="872.1" width="2610" height="125" fill="url(#mg3)"/></mask>
<rect x="704" y="877.1" width="2596" height="115" fill="url(#bg3)" mask="url(#mk3)"/>
<path d="M704,1048.7 H165.5 A57.5,57.5 0 0 0 165.5,1163.7 H704 Z" fill="#abbf52"/>
<linearGradient id="mg4" gradientUnits="userSpaceOnUse" x1="3195.02" y1="1107.72" x2="3212.98" y2="1054.68"><stop offset="0" stop-color="#fff"/><stop offset="1" stop-color="#000"/></linearGradient>
<mask id="mk4" maskUnits="userSpaceOnUse" x="700" y="1043.7" width="2610" height="125"><rect x="700" y="1043.7" width="2610" height="125" fill="url(#mg4)"/></mask>
<rect x="704" y="1048.7" width="2596" height="115" fill="url(#bg4)" mask="url(#mk4)"/>
<path d="M704,1220.3 H165.5 A57.5,57.5 0 0 0 165.5,1335.3 H704 Z" fill="#fdc64b"/>
<linearGradient id="mg5" gradientUnits="userSpaceOnUse" x1="3195.02" y1="1279.32" x2="3212.98" y2="1226.28"><stop offset="0" stop-color="#fff"/><stop offset="1" stop-color="#000"/></linearGradient>
<mask id="mk5" maskUnits="userSpaceOnUse" x="700" y="1215.3" width="2610" height="125"><rect x="700" y="1215.3" width="2610" height="125" fill="url(#mg5)"/></mask>
<rect x="704" y="1220.3" width="2596" height="115" fill="url(#bg5)" mask="url(#mk5)"/>
<path d="M704,1391.9 H165.5 A57.5,57.5 0 0 0 165.5,1506.9 H704 Z" fill="#f7951f"/>
<linearGradient id="mg6" gradientUnits="userSpaceOnUse" x1="3195.02" y1="1450.92" x2="3212.98" y2="1397.88"><stop offset="0" stop-color="#fff"/><stop offset="1" stop-color="#000"/></linearGradient>
<mask id="mk6" maskUnits="userSpaceOnUse" x="700" y="1386.9" width="2610" height="125"><rect x="700" y="1386.9" width="2610" height="125" fill="url(#mg6)"/></mask>
<rect x="704" y="1391.9" width="2596" height="115" fill="url(#bg6)" mask="url(#mk6)"/>
<path d="M704,1563.5 H165.5 A57.5,57.5 0 0 0 165.5,1678.5 H704 Z" fill="#e5544b"/>
<linearGradient id="mg7" gradientUnits="userSpaceOnUse" x1="3195.02" y1="1622.52" x2="3212.98" y2="1569.48"><stop offset="0" stop-color="#fff"/><stop offset="1" stop-color="#000"/></linearGradient>
<mask id="mk7" maskUnits="userSpaceOnUse" x="700" y="1558.5" width="2610" height="125"><rect x="700" y="1558.5" width="2610" height="125" fill="url(#mg7)"/></mask>
<rect x="704" y="1563.5" width="2596" height="115" fill="url(#bg7)" mask="url(#mk7)"/>
<path d="M704,1735.1 H165.5 A57.5,57.5 0 0 0 165.5,1850.1 H704 Z" fill="#a56c5c"/>
<linearGradient id="mg8" gradientUnits="userSpaceOnUse" x1="3195.02" y1="1794.12" x2="3212.98" y2="1741.08"><stop offset="0" stop-color="#fff"/><stop offset="1" stop-color="#000"/></linearGradient>
<mask id="mk8" maskUnits="userSpaceOnUse" x="700" y="1730.1" width="2610" height="125"><rect x="700" y="1730.1" width="2610" height="125" fill="url(#mg8)"/></mask>
<rect x="704" y="1735.1" width="2596" height="115" fill="url(#bg8)" mask="url(#mk8)"/>
<path d="M704,1906.7 H165.5 A57.5,57.5 0 0 0 165.5,2021.7 H704 Z" fill="#a6835f"/>
<linearGradient id="mg9" gradientUnits="userSpaceOnUse" x1="3195.02" y1="1965.72" x2="3212.98" y2="1912.68"><stop offset="0" stop-color="#fff"/><stop offset="1" stop-color="#000"/></linearGradient>
<mask id="mk9" maskUnits="userSpaceOnUse" x="700" y="1901.7" width="2610" height="125"><rect x="700" y="1901.7" width="2610" height="125" fill="url(#mg9)"/></mask>
<rect x="704" y="1906.7" width="2596" height="115" fill="url(#bg9)" mask="url(#mk9)"/>
<path d="M704,2078.3 H165.5 A57.5,57.5 0 0 0 165.5,2193.3 H704 Z" fill="#4f6e85"/>
<linearGradient id="mg10" gradientUnits="userSpaceOnUse" x1="3195.02" y1="2137.32" x2="3212.98" y2="2084.28"><stop offset="0" stop-color="#fff"/><stop offset="1" stop-color="#000"/></linearGradient>
<mask id="mk10" maskUnits="userSpaceOnUse" x="700" y="2073.3" width="2610" height="125"><rect x="700" y="2073.3" width="2610" height="125" fill="url(#mg10)"/></mask>
<rect x="704" y="2078.3" width="2596" height="115" fill="url(#bg10)" mask="url(#mk10)"/>
<path d="M704,2249.9 H165.5 A57.5,57.5 0 0 0 165.5,2364.9 H704 Z" fill="#3b5066"/>
<linearGradient id="mg11" gradientUnits="userSpaceOnUse" x1="3195.02" y1="2308.92" x2="3212.98" y2="2255.88"><stop offset="0" stop-color="#fff"/><stop offset="1" stop-color="#000"/></linearGradient>
<mask id="mk11" maskUnits="userSpaceOnUse" x="700" y="2244.9" width="2610" height="125"><rect x="700" y="2244.9" width="2610" height="125" fill="url(#mg11)"/></mask>
<rect x="704" y="2249.9" width="2596" height="115" fill="url(#bg11)" mask="url(#mk11)"/>
<text transform="translate(177.45,453.75) scale(1.1189,1)" font-size="84.45" font-weight="bold" font-style="italic" fill="#000" stroke="#000" stroke-width="2.5" stroke-linejoin="miter" stroke-miterlimit="3" >Januar</text>
<text transform="translate(177.84,626.65) scale(1.1138,1)" font-size="84.45" font-weight="bold" font-style="italic" fill="#000" stroke="#000" stroke-width="2.5" stroke-linejoin="miter" stroke-miterlimit="3" >Februar</text>
<text transform="translate(178.74,798.15) scale(1.1300,1)" font-size="84.45" font-weight="bold" font-style="italic" fill="#000" stroke="#000" stroke-width="2.5" stroke-linejoin="miter" stroke-miterlimit="3" >März</text>
<text transform="translate(182.93,965.75) scale(1.1165,1)" font-size="84.45" font-weight="bold" font-style="italic" fill="#000" stroke="#000" stroke-width="2.5" stroke-linejoin="miter" stroke-miterlimit="3" >April</text>
<text transform="translate(178.44,1140.15) scale(1.1101,1)" font-size="84.45" font-weight="bold" font-style="italic" fill="#000" stroke="#000" stroke-width="2.5" stroke-linejoin="miter" stroke-miterlimit="3" >Mai</text>
<text transform="translate(177.44,1310.15) scale(1.1019,1)" font-size="84.45" font-weight="bold" font-style="italic" fill="#000" stroke="#000" stroke-width="2.5" stroke-linejoin="miter" stroke-miterlimit="3" >Juni</text>
<text transform="translate(177.44,1485.15) scale(1.1079,1)" font-size="84.45" font-weight="bold" font-style="italic" fill="#000" stroke="#000" stroke-width="2.5" stroke-linejoin="miter" stroke-miterlimit="3" >Juli</text>
<text transform="translate(183.76,1647.75) scale(1.0932,1)" font-size="84.45" font-weight="bold" font-style="italic" fill="#000" stroke="#000" stroke-width="2.5" stroke-linejoin="miter" stroke-miterlimit="3" >August</text>
<text transform="translate(180.45,1822.25) scale(1.1223,1)" font-size="84.45" font-weight="bold" font-style="italic" fill="#000" stroke="#000" stroke-width="2.5" stroke-linejoin="miter" stroke-miterlimit="3" >September</text>
<text transform="translate(174.89,1997.85) scale(1.1163,1)" font-size="84.45" font-weight="bold" font-style="italic" fill="#000" stroke="#000" stroke-width="2.5" stroke-linejoin="miter" stroke-miterlimit="3" >Oktober</text>
<text transform="translate(178.74,2170.15) scale(1.1104,1)" font-size="84.45" font-weight="bold" font-style="italic" fill="#fff" stroke="#fff" stroke-width="2.5" stroke-linejoin="miter" stroke-miterlimit="3" >November</text>
<text transform="translate(178.74,2339.75) scale(1.1187,1)" font-size="84.45" font-weight="bold" font-style="italic" fill="#fff" stroke="#fff" stroke-width="2.5" stroke-linejoin="miter" stroke-miterlimit="3" >Dezember</text>
<g fill="#5a7aab"><rect x="753.5" y="382.5" width="13" height="36.2" rx="6.5"/><rect x="915.16" y="375.1" width="13" height="36.8" rx="6.5"/><rect x="995.99" y="374" width="13" height="37.9" rx="6.5"/><rect x="1157.65" y="374" width="13" height="39" rx="6.5"/><rect x="1238.48" y="376.2" width="13" height="38" rx="6.5"/><rect x="1319.31" y="379.1" width="13" height="37.3" rx="6.5"/><rect x="1561.8" y="423.2" width="13" height="38" rx="6.5"/><rect x="1642.63" y="423.2" width="13" height="38.5" rx="6.5"/><rect x="1723.46" y="423.2" width="13" height="38.5" rx="6.5"/><rect x="1804.29" y="421.5" width="13" height="39.1" rx="6.5"/><rect x="1965.95" y="382.5" width="13" height="36.2" rx="6.5"/><rect x="2046.78" y="379.1" width="13" height="37.3" rx="6.5"/><rect x="2208.44" y="374" width="13" height="37.9" rx="6.5"/><rect x="2370.1" y="375.1" width="13" height="41.3" rx="6.5"/><rect x="2450.93" y="376.8" width="13" height="43.6" rx="6.5"/><rect x="2531.76" y="380.8" width="13" height="43.6" rx="6.5"/><rect x="2612.59" y="386.4" width="13" height="42.5" rx="6.5"/><rect x="2774.25" y="414.7" width="13" height="34" rx="6.5"/><rect x="2855.08" y="414.7" width="13" height="34" rx="6.5"/><rect x="2935.91" y="413" width="13" height="32.9" rx="6.5"/><rect x="3016.74" y="413" width="13" height="34" rx="6.5"/><rect x="3178.4" y="400.6" width="13" height="35.1" rx="6.5"/><rect x="1076.82" y="337.2" width="13" height="80.4" rx="6.5"/><rect x="1480.97" y="373.4" width="13" height="113.3" rx="6.5"/><rect x="1885.12" y="394.9" width="13" height="69.1" rx="6.5"/><rect x="2289.27" y="341.1" width="13" height="76.5" rx="6.5"/><rect x="3097.57" y="368" width="13" height="111" rx="6.5"/></g>
<g fill="#6e8dba"><rect x="834.33" y="549.5" width="13" height="37.9" rx="6.5"/><rect x="915.16" y="547.8" width="13" height="37.9" rx="6.5"/><rect x="995.99" y="545.5" width="13" height="38.5" rx="6.5"/><rect x="1157.65" y="546.1" width="13" height="37.9" rx="6.5"/><rect x="1238.48" y="547.8" width="13" height="37.9" rx="6.5"/><rect x="1400.14" y="554.6" width="13" height="36.8" rx="6.5"/><rect x="1561.8" y="594.2" width="13" height="38.5" rx="6.5"/><rect x="1642.63" y="594.2" width="13" height="38.5" rx="6.5"/><rect x="1723.46" y="594.2" width="13" height="38.5" rx="6.5"/><rect x="1804.29" y="593.1" width="13" height="39.6" rx="6.5"/><rect x="2046.78" y="549.5" width="13" height="37.9" rx="6.5"/><rect x="2127.61" y="547.8" width="13" height="37.9" rx="6.5"/><rect x="2208.44" y="545.5" width="13" height="38.5" rx="6.5"/><rect x="2370.1" y="546.1" width="13" height="42.5" rx="6.5"/><rect x="2450.93" y="547.8" width="13" height="43.6" rx="6.5"/><rect x="2612.59" y="557.4" width="13" height="42.5" rx="6.5"/><rect x="2774.25" y="585.7" width="13" height="34" rx="6.5"/><rect x="2855.08" y="584.6" width="13" height="35.1" rx="6.5"/><rect x="2935.91" y="584.6" width="13" height="34" rx="6.5"/><rect x="1076.82" y="509.3" width="13" height="79.3" rx="6.5"/><rect x="1480.97" y="545" width="13" height="112.6" rx="6.5"/><rect x="1885.12" y="566.5" width="13" height="69.6" rx="6.5"/><rect x="2289.27" y="509.3" width="13" height="111" rx="6.5"/><rect x="2693.42" y="567.6" width="13" height="76.5" rx="6.5"/></g>
<g fill="#a8dedb"><rect x="753.5" y="725.8" width="13" height="36.8" rx="6.5"/><rect x="915.16" y="719" width="13" height="36.8" rx="6.5"/><rect x="995.99" y="717.3" width="13" height="37.9" rx="6.5"/><rect x="1157.65" y="718.4" width="13" height="37.4" rx="6.5"/><rect x="1238.48" y="720.1" width="13" height="36.8" rx="6.5"/><rect x="1319.31" y="722.9" width="13" height="36.8" rx="6.5"/><rect x="1400.14" y="725.8" width="13" height="36.8" rx="6.5"/><rect x="1561.8" y="764.3" width="13" height="39" rx="6.5"/><rect x="1642.63" y="765.4" width="13" height="39.6" rx="6.5"/><rect x="1723.46" y="765.4" width="13" height="39.6" rx="6.5"/><rect x="1804.29" y="764.3" width="13" height="39" rx="6.5"/><rect x="1965.95" y="725.8" width="13" height="36.8" rx="6.5"/><rect x="2046.78" y="721.8" width="13" height="36.8" rx="6.5"/><rect x="2208.44" y="717.3" width="13" height="37.9" rx="6.5"/><rect x="2370.1" y="718.4" width="13" height="42.5" rx="6.5"/><rect x="2450.93" y="720.1" width="13" height="42.5" rx="6.5"/><rect x="2531.76" y="724.6" width="13" height="42.5" rx="6.5"/><rect x="2612.59" y="730.3" width="13" height="42.5" rx="6.5"/><rect x="2774.25" y="756.9" width="13" height="38" rx="6.5"/><rect x="2855.08" y="758.6" width="13" height="38" rx="6.5"/><rect x="2935.91" y="755.8" width="13" height="34" rx="6.5"/><rect x="3016.74" y="754.1" width="13" height="35.1" rx="6.5"/><rect x="3178.4" y="739.9" width="13" height="35.1" rx="6.5"/><rect x="1076.82" y="681.6" width="13" height="78.1" rx="6.5"/><rect x="1885.12" y="737.1" width="13" height="69.6" rx="6.5"/><rect x="2289.27" y="684.4" width="13" height="79.9" rx="6.5"/><rect x="3097.57" y="696.3" width="13" height="126.9" rx="6.5"/></g>
<g fill="#a9c04e"><rect x="834.33" y="895.6" width="13" height="36.8" rx="6.5"/><rect x="915.16" y="892.8" width="13" height="38.5" rx="6.5"/><rect x="995.99" y="890.5" width="13" height="38.5" rx="6.5"/><rect x="1157.65" y="890.5" width="13" height="38.5" rx="6.5"/><rect x="1238.48" y="892.8" width="13" height="37.9" rx="6.5"/><rect x="1319.31" y="895.6" width="13" height="36.8" rx="6.5"/><rect x="1561.8" y="938.1" width="13" height="38.5" rx="6.5"/><rect x="1642.63" y="939.8" width="13" height="39.1" rx="6.5"/><rect x="1723.46" y="939.8" width="13" height="39.1" rx="6.5"/><rect x="1804.29" y="938.1" width="13" height="39.6" rx="6.5"/><rect x="2046.78" y="895.6" width="13" height="36.8" rx="6.5"/><rect x="2127.61" y="892.8" width="13" height="37.9" rx="6.5"/><rect x="2208.44" y="890.5" width="13" height="38.5" rx="6.5"/><rect x="2370.1" y="891.1" width="13" height="42.5" rx="6.5"/><rect x="2450.93" y="892.8" width="13" height="43.6" rx="6.5"/><rect x="2612.59" y="902.4" width="13" height="42.5" rx="6.5"/><rect x="2774.25" y="930.7" width="13" height="34.6" rx="6.5"/><rect x="2855.08" y="930.7" width="13" height="34" rx="6.5"/><rect x="2935.91" y="929.6" width="13" height="34" rx="6.5"/><rect x="3016.74" y="928.5" width="13" height="33.9" rx="6.5"/><rect x="1076.82" y="854.3" width="13" height="79.3" rx="6.5"/><rect x="1480.97" y="890" width="13" height="111.5" rx="6.5"/><rect x="1885.12" y="911.5" width="13" height="69.6" rx="6.5"/><rect x="2289.27" y="857.1" width="13" height="88.9" rx="6.5"/><rect x="2693.42" y="912.6" width="13" height="77.6" rx="6.5"/></g>
<g fill="#98b040"><rect x="753.5" y="1070.8" width="13" height="37.9" rx="6.5"/><rect x="834.33" y="1066.8" width="13" height="39.1" rx="6.5"/><rect x="915.16" y="1064" width="13" height="39" rx="6.5"/><rect x="995.99" y="1062.3" width="13" height="39.6" rx="6.5"/><rect x="1157.65" y="1063.4" width="13" height="38.5" rx="6.5"/><rect x="1238.48" y="1065.1" width="13" height="37.9" rx="6.5"/><rect x="1319.31" y="1067.9" width="13" height="38" rx="6.5"/><rect x="1561.8" y="1110.4" width="13" height="37.9" rx="6.5"/><rect x="1642.63" y="1111.5" width="13" height="39.7" rx="6.5"/><rect x="1723.46" y="1111.5" width="13" height="39.7" rx="6.5"/><rect x="1804.29" y="1110.4" width="13" height="39.6" rx="6.5"/><rect x="2046.78" y="1066.8" width="13" height="39.1" rx="6.5"/><rect x="2127.61" y="1064" width="13" height="39" rx="6.5"/><rect x="2208.44" y="1062.3" width="13" height="39.6" rx="6.5"/><rect x="2370.1" y="1065.1" width="13" height="41.3" rx="6.5"/><rect x="2531.76" y="1070.8" width="13" height="42.4" rx="6.5"/><rect x="2612.59" y="1075.3" width="13" height="38" rx="6.5"/><rect x="2774.25" y="1103.6" width="13" height="33.4" rx="6.5"/><rect x="2855.08" y="1103" width="13" height="34" rx="6.5"/><rect x="2935.91" y="1101.9" width="13" height="34" rx="6.5"/><rect x="3016.74" y="1100.2" width="13" height="34.6" rx="6.5"/><rect x="3178.4" y="1086.1" width="13" height="33.9" rx="6.5"/><rect x="1076.82" y="1026.6" width="13" height="79.8" rx="6.5"/><rect x="1480.97" y="1062.3" width="13" height="113.2" rx="6.5"/><rect x="1885.12" y="1083.2" width="13" height="70.8" rx="6.5"/><rect x="2289.27" y="1031.1" width="13" height="85" rx="6.5"/><rect x="2693.42" y="1084.9" width="13" height="78.2" rx="6.5"/></g>
<g fill="#fdb92b"><rect x="753.5" y="1244.6" width="13" height="38.5" rx="6.5"/><rect x="834.33" y="1240.6" width="13" height="38.5" rx="6.5"/><rect x="915.16" y="1237.8" width="13" height="39.6" rx="6.5"/><rect x="995.99" y="1236.1" width="13" height="39.6" rx="6.5"/><rect x="1157.65" y="1236.7" width="13" height="39" rx="6.5"/><rect x="1319.31" y="1242.3" width="13" height="38" rx="6.5"/><rect x="1400.14" y="1244.6" width="13" height="38.5" rx="6.5"/><rect x="1561.8" y="1284.2" width="13" height="40.2" rx="6.5"/><rect x="1642.63" y="1285.9" width="13" height="39.7" rx="6.5"/><rect x="1723.46" y="1284.8" width="13" height="39.6" rx="6.5"/><rect x="1965.95" y="1244.6" width="13" height="38.5" rx="6.5"/><rect x="2046.78" y="1240.6" width="13" height="38" rx="6.5"/><rect x="2127.61" y="1237.8" width="13" height="38.5" rx="6.5"/><rect x="2208.44" y="1236.7" width="13" height="37.9" rx="6.5"/><rect x="2450.93" y="1239.5" width="13" height="43.6" rx="6.5"/><rect x="2531.76" y="1244.6" width="13" height="43" rx="6.5"/><rect x="2612.59" y="1249.1" width="13" height="44.2" rx="6.5"/><rect x="2774.25" y="1277.4" width="13" height="34" rx="6.5"/><rect x="2855.08" y="1276.3" width="13" height="34" rx="6.5"/><rect x="2935.91" y="1275.7" width="13" height="34" rx="6.5"/><rect x="1076.82" y="1199.3" width="13" height="82.1" rx="6.5"/><rect x="1480.97" y="1236.7" width="13" height="112.6" rx="6.5"/><rect x="1885.12" y="1257.6" width="13" height="69.7" rx="6.5"/><rect x="2289.27" y="1205" width="13" height="86.6" rx="6.5"/><rect x="2693.42" y="1258.8" width="13" height="78.1" rx="6.5"/><rect x="3097.57" y="1216.3" width="13" height="126.3" rx="6.5"/></g>
<g fill="#f7951f"><rect x="753.5" y="1415.8" width="13" height="37.9" rx="6.5"/><rect x="834.33" y="1412.9" width="13" height="38" rx="6.5"/><rect x="915.16" y="1410.1" width="13" height="38.5" rx="6.5"/><rect x="995.99" y="1408.4" width="13" height="38.5" rx="6.5"/><rect x="1157.65" y="1409" width="13" height="37.9" rx="6.5"/><rect x="1319.31" y="1414.1" width="13" height="37.3" rx="6.5"/><rect x="1400.14" y="1416.9" width="13" height="37.4" rx="6.5"/><rect x="1561.8" y="1456.5" width="13" height="39.7" rx="6.5"/><rect x="1642.63" y="1456.5" width="13" height="39.7" rx="6.5"/><rect x="1804.29" y="1455.4" width="13" height="39.6" rx="6.5"/><rect x="1965.95" y="1415.8" width="13" height="38.5" rx="6.5"/><rect x="2046.78" y="1412.9" width="13" height="38.5" rx="6.5"/><rect x="2127.61" y="1410.1" width="13" height="38.5" rx="6.5"/><rect x="2208.44" y="1408.4" width="13" height="38.5" rx="6.5"/><rect x="2370.1" y="1409" width="13" height="42.4" rx="6.5"/><rect x="2450.93" y="1411.8" width="13" height="43.6" rx="6.5"/><rect x="2531.76" y="1415.8" width="13" height="43.6" rx="6.5"/><rect x="2612.59" y="1421.4" width="13" height="42.5" rx="6.5"/><rect x="2774.25" y="1448.6" width="13" height="33.4" rx="6.5"/><rect x="2855.08" y="1448.6" width="13" height="33.4" rx="6.5"/><rect x="3016.74" y="1445.8" width="13" height="34" rx="6.5"/><rect x="3178.4" y="1431.1" width="13" height="33.9" rx="6.5"/><rect x="1076.82" y="1372.2" width="13" height="80.4" rx="6.5"/><rect x="1480.97" y="1407.3" width="13" height="113.2" rx="6.5"/><rect x="1885.12" y="1428.8" width="13" height="69.1" rx="6.5"/><rect x="2693.42" y="1431.1" width="13" height="78.1" rx="6.5"/><rect x="3097.57" y="1387.5" width="13" height="126.2" rx="6.5"/></g>
<g fill="#e5544b"><rect x="753.5" y="1587.3" width="13" height="39.1" rx="6.5"/><rect x="834.33" y="1583.9" width="13" height="38.5" rx="6.5"/><rect x="915.16" y="1581.7" width="13" height="37.9" rx="6.5"/><rect x="995.99" y="1580" width="13" height="38.5" rx="6.5"/><rect x="1157.65" y="1581.1" width="13" height="38.5" rx="6.5"/><rect x="1238.48" y="1582.8" width="13" height="37.9" rx="6.5"/><rect x="1319.31" y="1584.5" width="13" height="37.9" rx="6.5"/><rect x="1400.14" y="1587.3" width="13" height="39.1" rx="6.5"/><rect x="1561.8" y="1628.1" width="13" height="39.6" rx="6.5"/><rect x="1723.46" y="1628.1" width="13" height="39.6" rx="6.5"/><rect x="1804.29" y="1628.1" width="13" height="39.6" rx="6.5"/><rect x="1965.95" y="1587.3" width="13" height="39.1" rx="6.5"/><rect x="2046.78" y="1584.5" width="13" height="37.9" rx="6.5"/><rect x="2127.61" y="1581.7" width="13" height="37.9" rx="6.5"/><rect x="2370.1" y="1580" width="13" height="41.3" rx="6.5"/><rect x="2450.93" y="1582.8" width="13" height="42.5" rx="6.5"/><rect x="2531.76" y="1587.3" width="13" height="42.5" rx="6.5"/><rect x="2612.59" y="1592.4" width="13" height="42.5" rx="6.5"/><rect x="2774.25" y="1620.7" width="13" height="32.9" rx="6.5"/><rect x="2935.91" y="1619.6" width="13" height="34" rx="6.5"/><rect x="3016.74" y="1619.6" width="13" height="34" rx="6.5"/><rect x="3178.4" y="1602.6" width="13" height="34" rx="6.5"/><rect x="1480.97" y="1578.3" width="13" height="113.2" rx="6.5"/><rect x="1885.12" y="1599.8" width="13" height="70.8" rx="6.5"/><rect x="2289.27" y="1546" width="13" height="79.3" rx="6.5"/><rect x="2693.42" y="1601.5" width="13" height="77.6" rx="6.5"/><rect x="3097.57" y="1560.2" width="13" height="124.5" rx="6.5"/></g>
<g fill="#a56c5c"><rect x="753.5" y="1763.6" width="13" height="36.8" rx="6.5"/><rect x="834.33" y="1759.6" width="13" height="38" rx="6.5"/><rect x="995.99" y="1755.1" width="13" height="38.5" rx="6.5"/><rect x="1157.65" y="1755.1" width="13" height="38.5" rx="6.5"/><rect x="1238.48" y="1756.8" width="13" height="37.9" rx="6.5"/><rect x="1319.31" y="1759.6" width="13" height="38" rx="6.5"/><rect x="1400.14" y="1762.5" width="13" height="37.9" rx="6.5"/><rect x="1561.8" y="1802.1" width="13" height="37.9" rx="6.5"/><rect x="1642.63" y="1803.2" width="13" height="39.7" rx="6.5"/><rect x="1723.46" y="1803.2" width="13" height="39.7" rx="6.5"/><rect x="1804.29" y="1802.1" width="13" height="39.6" rx="6.5"/><rect x="1965.95" y="1761.9" width="13" height="38.5" rx="6.5"/><rect x="2127.61" y="1756.8" width="13" height="36.8" rx="6.5"/><rect x="2208.44" y="1754" width="13" height="37.9" rx="6.5"/><rect x="2370.1" y="1755.1" width="13" height="42.5" rx="6.5"/><rect x="2450.93" y="1756.8" width="13" height="43.6" rx="6.5"/><rect x="2531.76" y="1760.8" width="13" height="44.1" rx="6.5"/><rect x="2612.59" y="1767.6" width="13" height="42.4" rx="6.5"/><rect x="2774.25" y="1794.7" width="13" height="34" rx="6.5"/><rect x="2855.08" y="1794.7" width="13" height="34" rx="6.5"/><rect x="2935.91" y="1793" width="13" height="34" rx="6.5"/><rect x="3016.74" y="1791.9" width="13" height="34" rx="6.5"/><rect x="1076.82" y="1718.3" width="13" height="79.3" rx="6.5"/><rect x="1885.12" y="1774.9" width="13" height="69.7" rx="6.5"/><rect x="2289.27" y="1721.1" width="13" height="87.8" rx="6.5"/><rect x="3097.57" y="1735.3" width="13" height="124.6" rx="6.5"/></g>
<g fill="#a6835f"><rect x="753.5" y="1932.3" width="13" height="36.8" rx="6.5"/><rect x="834.33" y="1927.8" width="13" height="38.5" rx="6.5"/><rect x="995.99" y="1923.3" width="13" height="38.5" rx="6.5"/><rect x="1157.65" y="1925" width="13" height="36.8" rx="6.5"/><rect x="1238.48" y="1926.7" width="13" height="36.8" rx="6.5"/><rect x="1319.31" y="1928.9" width="13" height="37.4" rx="6.5"/><rect x="1561.8" y="1973.1" width="13" height="38.5" rx="6.5"/><rect x="1642.63" y="1973.1" width="13" height="38.5" rx="6.5"/><rect x="1723.46" y="1973.1" width="13" height="38.5" rx="6.5"/><rect x="1804.29" y="1971.4" width="13" height="38.5" rx="6.5"/><rect x="1965.95" y="1931.8" width="13" height="37.3" rx="6.5"/><rect x="2127.61" y="1925" width="13" height="36.8" rx="6.5"/><rect x="2208.44" y="1923.3" width="13" height="37.3" rx="6.5"/><rect x="2370.1" y="1923.8" width="13" height="43.6" rx="6.5"/><rect x="2450.93" y="1926.1" width="13" height="43" rx="6.5"/><rect x="2531.76" y="1929.5" width="13" height="43.6" rx="6.5"/><rect x="2612.59" y="1935.2" width="13" height="43.6" rx="6.5"/><rect x="2774.25" y="1962.9" width="13" height="34" rx="6.5"/><rect x="2855.08" y="1962.9" width="13" height="34" rx="6.5"/><rect x="2935.91" y="1962.9" width="13" height="34" rx="6.5"/><rect x="3016.74" y="1962.9" width="13" height="34" rx="6.5"/><rect x="3178.4" y="1944.8" width="13" height="35.1" rx="6.5"/><rect x="1076.82" y="1887" width="13" height="80.4" rx="6.5"/><rect x="1480.97" y="1923.3" width="13" height="112.1" rx="6.5"/><rect x="1885.12" y="1944.8" width="13" height="69.6" rx="6.5"/><rect x="2289.27" y="1891" width="13" height="86.1" rx="6.5"/><rect x="3097.57" y="1916.5" width="13" height="113.2" rx="6.5"/></g>
<g fill="#46627b"><rect x="834.33" y="2097.9" width="13" height="38" rx="6.5"/><rect x="915.16" y="2095.1" width="13" height="37.9" rx="6.5"/><rect x="995.99" y="2093.4" width="13" height="38.5" rx="6.5"/><rect x="1157.65" y="2094" width="13" height="37.9" rx="6.5"/><rect x="1238.48" y="2096.2" width="13" height="37.4" rx="6.5"/><rect x="1400.14" y="2101.9" width="13" height="37.4" rx="6.5"/><rect x="1561.8" y="2141.5" width="13" height="39.7" rx="6.5"/><rect x="1642.63" y="2141.5" width="13" height="39.7" rx="6.5"/><rect x="1723.46" y="2141.5" width="13" height="39.7" rx="6.5"/><rect x="1804.29" y="2140.4" width="13" height="39.6" rx="6.5"/><rect x="2046.78" y="2097.9" width="13" height="38" rx="6.5"/><rect x="2127.61" y="2095.1" width="13" height="37.9" rx="6.5"/><rect x="2208.44" y="2093.4" width="13" height="38.5" rx="6.5"/><rect x="2370.1" y="2094" width="13" height="43.6" rx="6.5"/><rect x="2450.93" y="2096.2" width="13" height="44.2" rx="6.5"/><rect x="2612.59" y="2106.4" width="13" height="42.5" rx="6.5"/><rect x="2774.25" y="2133.6" width="13" height="34" rx="6.5"/><rect x="2855.08" y="2133.6" width="13" height="34" rx="6.5"/><rect x="2935.91" y="2131.9" width="13" height="34" rx="6.5"/><rect x="3016.74" y="2130.8" width="13" height="35.1" rx="6.5"/><rect x="1076.82" y="2057.2" width="13" height="79.2" rx="6.5"/><rect x="1480.97" y="2092.3" width="13" height="113.2" rx="6.5"/><rect x="1885.12" y="2113.8" width="13" height="70.2" rx="6.5"/><rect x="2289.27" y="2061.1" width="13" height="87.8" rx="6.5"/><rect x="2693.42" y="2116.1" width="13" height="78.1" rx="6.5"/></g>
<g fill="#3b5066"><rect x="753.5" y="2274.6" width="13" height="36.8" rx="6.5"/><rect x="834.33" y="2270.6" width="13" height="36.8" rx="6.5"/><rect x="915.16" y="2267.8" width="13" height="37.9" rx="6.5"/><rect x="995.99" y="2266.1" width="13" height="38.5" rx="6.5"/><rect x="1157.65" y="2266.7" width="13" height="37.9" rx="6.5"/><rect x="1238.48" y="2268.9" width="13" height="37.4" rx="6.5"/><rect x="1400.14" y="2274.6" width="13" height="36.8" rx="6.5"/><rect x="1561.8" y="2314.2" width="13" height="38.5" rx="6.5"/><rect x="1642.63" y="2315.9" width="13" height="38" rx="6.5"/><rect x="1723.46" y="2315.9" width="13" height="38" rx="6.5"/><rect x="1804.29" y="2314.2" width="13" height="38.5" rx="6.5"/><rect x="2046.78" y="2270.6" width="13" height="38" rx="6.5"/><rect x="2127.61" y="2267.8" width="13" height="38.5" rx="6.5"/><rect x="2208.44" y="2266.1" width="13" height="38.5" rx="6.5"/><rect x="2370.1" y="2266.1" width="13" height="43" rx="6.5"/><rect x="2450.93" y="2268.9" width="13" height="44.2" rx="6.5"/><rect x="2612.59" y="2277.4" width="13" height="42.5" rx="6.5"/><rect x="2774.25" y="2305.7" width="13" height="34.6" rx="6.5"/><rect x="2855.08" y="2305.7" width="13" height="34.6" rx="6.5"/><rect x="2935.91" y="2304.6" width="13" height="34" rx="6.5"/><rect x="3016.74" y="2302.9" width="13" height="34.5" rx="6.5"/><rect x="3178.4" y="2287.6" width="13" height="36.8" rx="6.5"/><rect x="1076.82" y="2229.3" width="13" height="79.8" rx="6.5"/><rect x="1480.97" y="2265" width="13" height="111.5" rx="6.5"/><rect x="1885.12" y="2286.5" width="13" height="70.2" rx="6.5"/><rect x="2289.27" y="2232.7" width="13" height="88.9" rx="6.5"/><rect x="2693.42" y="2287.6" width="13" height="78.2" rx="6.5"/></g>
<circle cx="2769" cy="2029" r="82" fill="#fddca0" opacity="1" filter="url(#glowblur)"/>
<circle cx="2769" cy="2029" r="67" fill="#fdc870" stroke="#f2a52a" stroke-width="2.5"/>
<g transform="translate(842,404)"><circle r="69.5" fill="#000"/><use href="#mtD"/></g>
<g transform="translate(1408,420.4)"><path d="M0,-69.5 A69.5,69.5 0 0 0 0,69.5 Z" fill="#000"/><path d="M0,-69.5 A69.5,69.5 0 0 1 0,69.5 Z" fill="#6a8bbb"/><g clip-path="url(#chr)"><use href="#mtN"/></g></g>
<g transform="translate(2134,392)"><circle r="69.5" fill="#6a8bbb"/><use href="#mtN"/></g>
<g transform="translate(2699,440.5)"><path d="M0,-69.5 A69.5,69.5 0 0 1 0,69.5 Z" fill="#000"/><path d="M0,-69.5 A69.5,69.5 0 0 0 0,69.5 Z" fill="#6a8bbb"/><g clip-path="url(#chl)"><use href="#mtN"/></g></g>
<g transform="translate(759.5,591.6)"><circle r="69.5" fill="#000"/><use href="#mtD"/></g>
<g transform="translate(1327.4,576.4)"><path d="M0,-69.5 A69.5,69.5 0 0 0 0,69.5 Z" fill="#000"/><path d="M0,-69.5 A69.5,69.5 0 0 1 0,69.5 Z" fill="#6e8dba"/><g clip-path="url(#chr)"><use href="#mtN"/></g></g>
<g transform="translate(1972,591.7)"><circle r="69.5" fill="#6e8dba"/><use href="#mtN"/></g>
<g transform="translate(2537,581.8)"><path d="M0,-69.5 A69.5,69.5 0 0 1 0,69.5 Z" fill="#000"/><path d="M0,-69.5 A69.5,69.5 0 0 0 0,69.5 Z" fill="#6e8dba"/><g clip-path="url(#chl)"><use href="#mtN"/></g></g>
<g transform="translate(841.6,747)"><circle r="69.5" fill="#000"/><use href="#mtD"/></g>
<g transform="translate(1490,778)"><path d="M0,-69.5 A69.5,69.5 0 0 0 0,69.5 Z" fill="#000"/><path d="M0,-69.5 A69.5,69.5 0 0 1 0,69.5 Z" fill="#a6b9d9"/><g clip-path="url(#chr)"><use href="#mtN"/></g></g>
<g transform="translate(2134,735.7)"><circle r="69.5" fill="#a6b9d9"/><use href="#mtN"/></g>
<g transform="translate(2699,783.3)"><path d="M0,-69.5 A69.5,69.5 0 0 1 0,69.5 Z" fill="#000"/><path d="M0,-69.5 A69.5,69.5 0 0 0 0,69.5 Z" fill="#a6b9d9"/><g clip-path="url(#chl)"><use href="#mtN"/></g></g>
<g transform="translate(759.5,934.4)"><circle r="69.5" fill="#000"/><use href="#mtD"/></g>
<g transform="translate(1407.8,935)"><path d="M0,-69.5 A69.5,69.5 0 0 0 0,69.5 Z" fill="#000"/><path d="M0,-69.5 A69.5,69.5 0 0 1 0,69.5 Z" fill="#a5bf4a"/><g clip-path="url(#chr)"><use href="#mtN"/></g></g>
<g transform="translate(1972,924)"><circle r="69.5" fill="#a5bf4a"/><use href="#mtN"/></g>
<g transform="translate(2537,924.8)"><path d="M0,-69.5 A69.5,69.5 0 0 1 0,69.5 Z" fill="#000"/><path d="M0,-69.5 A69.5,69.5 0 0 0 0,69.5 Z" fill="#a5bf4a"/><g clip-path="url(#chl)"><use href="#mtN"/></g></g>
<g transform="translate(3103.5,936.7)"><circle r="69.5" fill="#000"/><use href="#mtD"/></g>
<g transform="translate(1406.7,1106.7)"><path d="M0,-69.5 A69.5,69.5 0 0 0 0,69.5 Z" fill="#000"/><path d="M0,-69.5 A69.5,69.5 0 0 1 0,69.5 Z" fill="#98b040"/><g clip-path="url(#chr)"><use href="#mtN"/></g></g>
<g transform="translate(1972,1106)"><circle r="69.5" fill="#98b040"/><use href="#mtR"/></g>
<g transform="translate(2456.8,1081.3)"><path d="M0,-69.5 A69.5,69.5 0 0 1 0,69.5 Z" fill="#000"/><path d="M0,-69.5 A69.5,69.5 0 0 0 0,69.5 Z" fill="#98b040"/><g clip-path="url(#chl)"><use href="#mtN"/></g></g>
<g transform="translate(3103.5,1107.9)"><circle r="69.5" fill="#000"/><use href="#mtD"/></g>
<g transform="translate(1246.4,1251)"><path d="M0,-69.5 A69.5,69.5 0 0 0 0,69.5 Z" fill="#000"/><path d="M0,-69.5 A69.5,69.5 0 0 1 0,69.5 Z" fill="#fdb92b"/><g clip-path="url(#chr)"><use href="#mtN"/></g></g>
<g transform="translate(1811,1301.5)"><circle r="69.5" fill="#fdb92b"/><use href="#mtN"/></g>
<g transform="translate(2375.8,1243.5)"><path d="M0,-69.5 A69.5,69.5 0 0 1 0,69.5 Z" fill="#000"/><path d="M0,-69.5 A69.5,69.5 0 0 0 0,69.5 Z" fill="#fdb92b"/><g clip-path="url(#chl)"><use href="#mtN"/></g></g>
<g transform="translate(3023,1285)"><circle r="69.5" fill="#000"/><use href="#mtD"/></g>
<g transform="translate(1246.4,1422.3)"><path d="M0,-69.5 A69.5,69.5 0 0 0 0,69.5 Z" fill="#000"/><path d="M0,-69.5 A69.5,69.5 0 0 1 0,69.5 Z" fill="#f7951f"/><g clip-path="url(#chr)"><use href="#mtN"/></g></g>
<g transform="translate(1730,1478.9)"><circle r="69.5" fill="#f7951f"/><use href="#mtN"/></g>
<g transform="translate(2295.4,1413)"><path d="M0,-69.5 A69.5,69.5 0 0 1 0,69.5 Z" fill="#000"/><path d="M0,-69.5 A69.5,69.5 0 0 0 0,69.5 Z" fill="#f7951f"/><g clip-path="url(#chl)"><use href="#mtN"/></g></g>
<g transform="translate(2942,1463.9)"><circle r="69.5" fill="#000"/><use href="#mtD"/></g>
<g transform="translate(1085,1583.7)"><path d="M0,-69.5 A69.5,69.5 0 0 0 0,69.5 Z" fill="#000"/><path d="M0,-69.5 A69.5,69.5 0 0 1 0,69.5 Z" fill="#e5544b"/><g clip-path="url(#chr)"><use href="#mtN"/></g></g>
<g transform="translate(1649,1650)"><circle r="69.5" fill="#e5544b"/><use href="#mtN"/></g>
<g transform="translate(2213.3,1585.7)"><path d="M0,-69.5 A69.5,69.5 0 0 1 0,69.5 Z" fill="#000"/><path d="M0,-69.5 A69.5,69.5 0 0 0 0,69.5 Z" fill="#e5544b"/><g clip-path="url(#chl)"><use href="#mtN"/></g></g>
<g transform="translate(2861,1640.9)"><circle r="69.5" fill="#000"/><use href="#mtD"/></g>
<g transform="translate(923.7,1763.6)"><path d="M0,-69.5 A69.5,69.5 0 0 0 0,69.5 Z" fill="#000"/><path d="M0,-69.5 A69.5,69.5 0 0 1 0,69.5 Z" fill="#a56c5c"/><g clip-path="url(#chr)"><use href="#mtN"/></g></g>
<g transform="translate(1487,1807.5)"><circle r="69.5" fill="#a56c5c"/><use href="#mtN"/></g>
<g transform="translate(2053,1775.2)"><path d="M0,-69.5 A69.5,69.5 0 0 1 0,69.5 Z" fill="#000"/><path d="M0,-69.5 A69.5,69.5 0 0 0 0,69.5 Z" fill="#a56c5c"/><g clip-path="url(#chl)"><use href="#mtN"/></g></g>
<g transform="translate(2699,1813)"><circle r="69.5" fill="#000"/><use href="#mtD"/></g>
<g transform="translate(923.7,1935.5)"><path d="M0,-69.5 A69.5,69.5 0 0 0 0,69.5 Z" fill="#000"/><path d="M0,-69.5 A69.5,69.5 0 0 1 0,69.5 Z" fill="#a6835f"/><g clip-path="url(#chr)"><use href="#mtN"/></g></g>
<g transform="translate(1406.7,1963.8)"><circle r="69.5" fill="#a6835f"/><use href="#mtN"/></g>
<g transform="translate(2053,1947.6)"><path d="M0,-69.5 A69.5,69.5 0 0 1 0,69.5 Z" fill="#000"/><path d="M0,-69.5 A69.5,69.5 0 0 0 0,69.5 Z" fill="#a6835f"/><g clip-path="url(#chl)"><use href="#mtN"/></g></g>
<g transform="translate(2699,1984.2)"><circle r="69.5" fill="#000"/><use href="#mtD"/></g>
<g transform="translate(761,2134.5)"><path d="M0,-69.5 A69.5,69.5 0 0 0 0,69.5 Z" fill="#000"/><path d="M0,-69.5 A69.5,69.5 0 0 1 0,69.5 Z" fill="#46627b"/><g clip-path="url(#chr)"><use href="#mtN"/></g></g>
<g transform="translate(1325.7,2119.7)"><circle r="69.5" fill="#46627b"/><use href="#mtN"/></g>
<g transform="translate(1972,2134.5)"><path d="M0,-69.5 A69.5,69.5 0 0 1 0,69.5 Z" fill="#000"/><path d="M0,-69.5 A69.5,69.5 0 0 0 0,69.5 Z" fill="#46627b"/><g clip-path="url(#chl)"><use href="#mtN"/></g></g>
<g transform="translate(2538,2125.4)"><circle r="69.5" fill="#000"/><use href="#mtD"/></g>
<g transform="translate(3103.5,2137.3)"><path d="M0,-69.5 A69.5,69.5 0 0 0 0,69.5 Z" fill="#000"/><path d="M0,-69.5 A69.5,69.5 0 0 1 0,69.5 Z" fill="#46627b"/><g clip-path="url(#chr)"><use href="#mtN"/></g></g>
<g transform="translate(1325.7,2291.3)"><circle r="69.5" fill="#3b5066"/><use href="#mtN"/></g>
<g transform="translate(1972,2306)"><path d="M0,-69.5 A69.5,69.5 0 0 1 0,69.5 Z" fill="#000"/><path d="M0,-69.5 A69.5,69.5 0 0 0 0,69.5 Z" fill="#3b5066"/><g clip-path="url(#chl)"><use href="#mtN"/></g></g>
<g transform="translate(2538,2296.4)"><circle r="69.5" fill="#000"/><use href="#mtD"/></g>
<g transform="translate(3103.5,2308.9)"><path d="M0,-69.5 A69.5,69.5 0 0 0 0,69.5 Z" fill="#000"/><path d="M0,-69.5 A69.5,69.5 0 0 1 0,69.5 Z" fill="#3b5066"/><g clip-path="url(#chr)"><use href="#mtN"/></g></g>
<rect x="918" y="419.5" width="93" height="50" rx="12" fill="#fff"/>
<text transform="translate(928.11,460) scale(1.0699,1)" font-size="44.4" font-weight="normal" font-style="normal" fill="#000" >2.1.</text>
<rect x="1484" y="419.5" width="91" height="50" rx="12" fill="#fff"/>
<text transform="translate(1494.34,460) scale(1.0380,1)" font-size="44.4" font-weight="normal" font-style="normal" fill="#000" >9.1.</text>
<rect x="2202" y="419.5" width="120" height="50" rx="12" fill="#fff"/>
<text transform="translate(2210.81,460) scale(1.0897,1)" font-size="44.4" font-weight="normal" font-style="normal" fill="#000" >18.1.</text>
<rect x="2783.5" y="419.5" width="119.5" height="50" rx="12" fill="#fff"/>
<text transform="translate(2793.61,460) scale(1.0708,1)" font-size="44.4" font-weight="normal" font-style="normal" fill="#000" >25.1.</text>
<rect x="844.4" y="591" width="93.4" height="50" rx="12" fill="#fff"/>
<text transform="translate(853.2,631.5) scale(1.0943,1)" font-size="44.4" font-weight="normal" font-style="normal" fill="#000" >1.2.</text>
<rect x="1406.7" y="591" width="92.8" height="50" rx="12" fill="#fff"/>
<text transform="translate(1417.15,631.5) scale(1.0621,1)" font-size="44.4" font-weight="normal" font-style="normal" fill="#000" >8.2.</text>
<rect x="2062" y="591" width="119" height="50" rx="12" fill="#fff"/>
<text transform="translate(2070.85,631.5) scale(1.0788,1)" font-size="44.4" font-weight="normal" font-style="normal" fill="#000" >16.2.</text>
<rect x="2620" y="591" width="117" height="50" rx="12" fill="#fff"/>
<text transform="translate(2630.17,631.5) scale(1.0437,1)" font-size="44.4" font-weight="normal" font-style="normal" fill="#000" >23.2.</text>
<rect x="918" y="766.5" width="92" height="50" rx="12" fill="#fff"/>
<text transform="translate(928.14,807) scale(1.0551,1)" font-size="44.4" font-weight="normal" font-style="normal" fill="#000" >2.3.</text>
<rect x="1569" y="766.5" width="119" height="50" rx="12" fill="#fff"/>
<text transform="translate(1577.85,807) scale(1.0788,1)" font-size="44.4" font-weight="normal" font-style="normal" fill="#000" >10.3.</text>
<rect x="2203.7" y="766.5" width="118.3" height="50" rx="12" fill="#fff"/>
<text transform="translate(2212.58,807) scale(1.0711,1)" font-size="44.4" font-weight="normal" font-style="normal" fill="#000" >18.3.</text>
<rect x="2783.5" y="766.5" width="119.5" height="50" rx="12" fill="#fff"/>
<text transform="translate(2793.61,807) scale(1.0708,1)" font-size="44.4" font-weight="normal" font-style="normal" fill="#000" >25.3.</text>
<rect x="837.6" y="936" width="93.4" height="50" rx="12" fill="#fff"/>
<text transform="translate(846.4,976.5) scale(1.0782,1)" font-size="45.06" font-weight="normal" font-style="normal" fill="#000" >1.4.</text>
<rect x="1483" y="936" width="89" height="50" rx="12" fill="#fff"/>
<text transform="translate(1493.4,976.5) scale(1.0086,1)" font-size="44.4" font-weight="normal" font-style="normal" fill="#000" >9.4.</text>
<rect x="2053" y="936" width="117.8" height="50" rx="12" fill="#fff"/>
<text transform="translate(2061.9,976.5) scale(1.0656,1)" font-size="44.4" font-weight="normal" font-style="normal" fill="#000" >16.4.</text>
<rect x="2619" y="936" width="118" height="50" rx="12" fill="#fff"/>
<text transform="translate(2629.15,976.5) scale(1.0545,1)" font-size="44.4" font-weight="normal" font-style="normal" fill="#000" >23.4.</text>
<rect x="3184.4" y="936" width="117.6" height="50" rx="12" fill="#fff"/>
<text transform="translate(3195.13,976.5) scale(1.0441,1)" font-size="44.4" font-weight="normal" font-style="normal" fill="#000" >30.4.</text>
<rect x="1483" y="1105" width="89" height="50" rx="12" fill="#fff"/>
<text transform="translate(1493.4,1145.5) scale(1.0086,1)" font-size="44.4" font-weight="normal" font-style="normal" fill="#000" >9.5.</text>
<rect x="2540.6" y="1105" width="118.4" height="50" rx="12" fill="#fff"/>
<text transform="translate(2550.74,1145.5) scale(1.0589,1)" font-size="44.4" font-weight="normal" font-style="normal" fill="#000" >22.5.</text>
<rect x="3184.4" y="1105" width="117.6" height="50" rx="12" fill="#fff"/>
<text transform="translate(3195.13,1145.5) scale(1.0441,1)" font-size="44.4" font-weight="normal" font-style="normal" fill="#000" >30.5.</text>
<rect x="1319" y="1278" width="89" height="50" rx="12" fill="#fff"/>
<text transform="translate(1329.2,1318.5) scale(1.0115,1)" font-size="44.4" font-weight="normal" font-style="normal" fill="#000" >7.6.</text>
<rect x="1893" y="1278" width="119.3" height="50" rx="12" fill="#fff"/>
<text transform="translate(1901.84,1318.5) scale(1.0820,1)" font-size="44.4" font-weight="normal" font-style="normal" fill="#000" >14.6.</text>
<rect x="2466.4" y="1278" width="118.9" height="50" rx="12" fill="#fff"/>
<text transform="translate(2476.52,1318.5) scale(1.0643,1)" font-size="44.4" font-weight="normal" font-style="normal" fill="#000" >21.6.</text>
<rect x="3102.3" y="1278" width="118.9" height="50" rx="12" fill="#fff"/>
<text transform="translate(3112.42,1318.5) scale(1.0643,1)" font-size="44.4" font-weight="normal" font-style="normal" fill="#000" >29.6.</text>
<rect x="1318" y="1449" width="90" height="50" rx="12" fill="#fff"/>
<text transform="translate(1328.16,1489.5) scale(1.0112,1)" font-size="45.06" font-weight="normal" font-style="normal" fill="#000" >7.7.</text>
<rect x="1818.4" y="1449" width="118.9" height="50" rx="12" fill="#fff"/>
<text transform="translate(1827.26,1489.5) scale(1.0777,1)" font-size="44.4" font-weight="normal" font-style="normal" fill="#000" >13.7.</text>
<rect x="2373.6" y="1449" width="117.2" height="50" rx="12" fill="#fff"/>
<text transform="translate(2383.76,1489.5) scale(1.0459,1)" font-size="44.4" font-weight="normal" font-style="normal" fill="#000" >20.7.</text>
<rect x="3026" y="1449" width="116" height="50" rx="12" fill="#fff"/>
<text transform="translate(3036.19,1489.5) scale(1.0329,1)" font-size="44.4" font-weight="normal" font-style="normal" fill="#000" >28.7.</text>
<rect x="1153" y="1617.5" width="89.5" height="50" rx="12" fill="#fff"/>
<text transform="translate(1163.7,1658) scale(1.0114,1)" font-size="44.4" font-weight="normal" font-style="normal" fill="#000" >5.8.</text>
<rect x="1735" y="1617.5" width="117.3" height="50" rx="12" fill="#fff"/>
<text transform="translate(1743.91,1658) scale(1.0601,1)" font-size="44.4" font-weight="normal" font-style="normal" fill="#000" >13.8.</text>
<rect x="2288.6" y="1617.5" width="118.9" height="50" rx="12" fill="#fff"/>
<text transform="translate(2297.46,1658) scale(1.0777,1)" font-size="44.4" font-weight="normal" font-style="normal" fill="#000" >19.8.</text>
<rect x="2952.3" y="1617.5" width="116" height="50" rx="12" fill="#fff"/>
<text transform="translate(2962.49,1658) scale(1.0329,1)" font-size="44.4" font-weight="normal" font-style="normal" fill="#000" >27.8.</text>
<rect x="995.6" y="1792.5" width="88.4" height="50" rx="12" fill="#fff"/>
<text transform="translate(1006.42,1833) scale(0.9940,1)" font-size="44.4" font-weight="normal" font-style="normal" fill="#000" >3.9.</text>
<rect x="1570.3" y="1792.5" width="117.7" height="50" rx="12" fill="#fff"/>
<text transform="translate(1579.2,1833) scale(1.0645,1)" font-size="44.4" font-weight="normal" font-style="normal" fill="#000" >10.9.</text>
<rect x="2136.9" y="1792.5" width="118.9" height="50" rx="12" fill="#fff"/>
<text transform="translate(2145.76,1833) scale(1.0777,1)" font-size="44.4" font-weight="normal" font-style="normal" fill="#000" >17.9.</text>
<rect x="2782.4" y="1792.5" width="118.9" height="50" rx="12" fill="#fff"/>
<text transform="translate(2792.52,1833) scale(1.0643,1)" font-size="44.4" font-weight="normal" font-style="normal" fill="#000" >25.9.</text>
<rect x="998.4" y="1963.5" width="117.8" height="50" rx="12" fill="#fff"/>
<text transform="translate(1009.13,2004) scale(1.0462,1)" font-size="44.4" font-weight="normal" font-style="normal" fill="#000" >3.10.</text>
<rect x="1488" y="1963.5" width="117" height="50" rx="12" fill="#fff"/>
<text transform="translate(1498.33,2004) scale(1.0420,1)" font-size="44.4" font-weight="normal" font-style="normal" fill="#000" >9.10.</text>
<rect x="2130" y="1963.5" width="141.6" height="50" rx="12" fill="#fff"/>
<text transform="translate(2138.97,2004) scale(1.0440,1)" font-size="44.4" font-weight="normal" font-style="normal" fill="#000" >17.10.</text>
<rect x="846" y="2133.5" width="118.4" height="50" rx="12" fill="#fff"/>
<text transform="translate(854.87,2174) scale(1.0564,1)" font-size="45.06" font-weight="normal" font-style="normal" fill="#000" >1.11.</text>
<rect x="1401" y="2133.5" width="119" height="50" rx="12" fill="#fff"/>
<text transform="translate(1411.45,2174) scale(1.0619,1)" font-size="44.4" font-weight="normal" font-style="normal" fill="#000" >8.11.</text>
<rect x="2056.2" y="2133.5" width="143.2" height="50" rx="12" fill="#fff"/>
<text transform="translate(2065.12,2174) scale(1.0578,1)" font-size="44.4" font-weight="normal" font-style="normal" fill="#000" >16.11.</text>
<rect x="2621" y="2133.5" width="142.7" height="50" rx="12" fill="#fff"/>
<text transform="translate(2631.17,2174) scale(1.0431,1)" font-size="44.4" font-weight="normal" font-style="normal" fill="#000" >23.11.</text>
<rect x="3181.6" y="2133.5" width="142.4" height="50" rx="12" fill="#fff"/>
<text transform="translate(3192.35,2174) scale(1.0358,1)" font-size="44.4" font-weight="normal" font-style="normal" fill="#000" >30.11.</text>
<rect x="1401" y="2307" width="119" height="50" rx="12" fill="#fff"/>
<text transform="translate(1411.45,2347.5) scale(1.0619,1)" font-size="44.4" font-weight="normal" font-style="normal" fill="#000" >8.12.</text>
<rect x="2057.6" y="2307" width="142.7" height="50" rx="12" fill="#fff"/>
<text transform="translate(2066.54,2347.5) scale(1.0534,1)" font-size="44.4" font-weight="normal" font-style="normal" fill="#000" >16.12.</text>
<rect x="2616.5" y="2307" width="142.1" height="50" rx="12" fill="#fff"/>
<text transform="translate(2626.68,2347.5) scale(1.0380,1)" font-size="44.4" font-weight="normal" font-style="normal" fill="#000" >23.12.</text>
<rect x="3187" y="2307" width="141" height="50" rx="12" fill="#fff"/>
<text transform="translate(3197.77,2347.5) scale(1.0239,1)" font-size="44.4" font-weight="normal" font-style="normal" fill="#000" >30.12.</text>
<ellipse cx="3198" cy="314" rx="265" ry="163" fill="#fff"/>
<rect x="2053" y="1061" width="250" height="160" rx="20" fill="#000" opacity="0.28" filter="url(#shad)"/>
<rect x="2047" y="1055" width="250" height="160" rx="20" fill="#fff" stroke="#c21d3f" stroke-width="3"/>
<text transform="translate(2065.48,1105.3) scale(1.2297,1)" font-size="38.66" font-weight="bold" font-style="normal" fill="#c8193c" stroke="#c8193c" stroke-width="1.4" stroke-linejoin="miter" stroke-miterlimit="3" >Mond-</text>
<text transform="translate(2067.85,1154.3) scale(1.2213,1)" font-size="38.66" font-weight="bold" font-style="normal" fill="#c8193c" stroke="#c8193c" stroke-width="1.4" stroke-linejoin="miter" stroke-miterlimit="3" >finsternis</text>
<text transform="translate(2063.68,1202.3) scale(1.3342,1)" font-size="38.66" font-weight="bold" font-style="normal" fill="#c8193c" stroke="#c8193c" stroke-width="1.4" stroke-linejoin="miter" stroke-miterlimit="3" >16.5.</text>
<rect x="2874" y="1892" width="414" height="159" rx="22" fill="#000" opacity="0.28" filter="url(#shad)"/>
<rect x="2866" y="1884" width="414" height="159" rx="22" fill="#fff" stroke="#b5853d" stroke-width="3"/>
<text transform="translate(2880.91,1928.8) scale(1.2022,1)" font-size="39.39" font-weight="bold" font-style="normal" fill="#b5813a" stroke="#b5813a" stroke-width="1.4" stroke-linejoin="miter" stroke-miterlimit="3" >Teilweise</text>
<text transform="translate(2879.48,1979) scale(1.1933,1)" font-size="39.39" font-weight="bold" font-style="normal" fill="#b5813a" stroke="#b5813a" stroke-width="1.4" stroke-linejoin="miter" stroke-miterlimit="3" >Sonnenfinsternis</text>
<text transform="translate(2880.74,2026.3) scale(1.2954,1)" font-size="39.39" font-weight="bold" font-style="normal" fill="#b5813a" stroke="#b5813a" stroke-width="1.4" stroke-linejoin="miter" stroke-miterlimit="3" >25.10.</text>
<path d="M3106.90,167.00C3111.00,166.71 3113.79,167.12 3116.75,168.47C3119.70,169.83 3123.07,172.78 3124.63,175.12C3126.19,177.46 3125.16,179.93 3126.11,182.51C3127.05,185.10 3128.90,188.59 3130.30,190.64C3131.69,192.69 3134.28,193.43 3134.48,194.83C3134.69,196.22 3131.61,196.35 3131.53,199.01C3131.44,201.68 3134.61,208.05 3133.99,210.84C3133.37,213.63 3129.68,213.22 3127.83,215.76C3125.99,218.31 3119.42,221.67 3122.91,226.11C3126.40,230.54 3138.30,239.37 3148.77,242.36C3159.24,245.36 3175.86,242.98 3185.71,244.09C3195.57,245.20 3202.13,245.94 3207.88,249.01C3213.63,252.09 3217.94,258.46 3220.20,262.56C3222.45,266.67 3221.76,270.85 3221.43,273.65C3221.10,276.44 3212.27,272.95 3218.23,279.31C3224.18,285.67 3250.16,305.25 3257.14,311.82C3264.12,318.39 3256.81,316.95 3260.10,318.72C3263.38,320.48 3272.21,320.28 3276.85,322.41C3281.49,324.55 3286.49,328.57 3287.93,331.53C3289.37,334.48 3291.42,338.10 3285.47,340.15C3279.52,342.20 3261.86,343.31 3252.22,343.84C3242.57,344.38 3233.25,344.66 3227.59,343.35C3221.92,342.04 3220.03,339.37 3218.23,335.96C3216.42,332.55 3221.96,329.80 3216.75,322.91C3211.54,316.01 3196.63,292.73 3186.95,294.58C3177.26,296.43 3165.80,325.16 3158.62,333.99C3151.44,342.82 3150.00,344.46 3143.84,347.54C3137.68,350.62 3127.42,352.18 3121.67,352.46C3115.93,352.75 3114.70,353.08 3109.36,349.26C3104.02,345.44 3093.92,338.26 3089.66,329.56C3085.39,320.85 3084.73,307.72 3083.74,297.04C3082.76,286.37 3083.17,272.91 3083.74,265.52C3084.32,258.13 3084.98,259.28 3087.19,252.71C3089.41,246.14 3095.73,231.36 3097.04,226.11C3098.36,220.85 3097.45,224.14 3095.07,221.18C3092.69,218.23 3085.71,212.77 3082.76,208.37C3079.80,203.98 3077.63,199.75 3077.34,194.83C3077.05,189.90 3078.57,182.92 3081.03,178.82C3083.50,174.71 3087.81,172.17 3092.12,170.20C3096.43,168.23 3102.79,167.28 3106.90,167.00Z" fill="#1a1f24"/>
<path d="M3080,138.91 L3094.78,130.78 L3103.94,145.41 L3089.61,154.27 L3083.7,155.16 L3078.23,143.34 Z" fill="#1a1f24"/>
<path d="M3078.53,142.16 L3083.7,154.86 L2994.32,205.09 L2988.71,195.34 Z" fill="#1a1f24"/>
<path d="M2960.64,203.91 L2965.51,200.22 L2972.16,206.42 L2988.71,195.34 L2994.32,205.09 L2974.38,214.25 L2964.48,212.48 Z" fill="#1a1f24"/>
<path d="M2983.24,184.41 L3007.91,172 L3009.83,175.84 L2985.46,188.25 Z" fill="#1a1f24"/>
<path d="M2992.1,176.88 L2998.01,176.88 L2998.01,189.43 L2992.1,189.43 Z" fill="#1a1f24"/>
<path d="M3019.14,193.42 L3027.56,186.78 L3039.08,195.64 L3039.67,206.42 L3031.99,206.42 L3031.7,198.59 L3024.6,195.05 Z" fill="#1a1f24"/>
<path d="M3026.82,206.87 L3046.32,206.87 L3047.5,210.12 L3026.08,210.12 Z" fill="#1a1f24"/>
<path d="M3027.12,207.9 L3033.47,208.64 L3030.96,229.62 L3024.6,252.96 L3009.09,310.57 L3002,325.05 L2998.01,312.79 L3017.22,247.05 Z" fill="#1a1f24"/>
<path d="M3031.55,207.9 L3040.41,207.9 L3039.53,252.96 L3036.42,332.73 L3029.78,354.6 L3024.6,337.17 L3026.08,257.39 Z" fill="#1a1f24"/>
<path d="M3040.41,208.34 L3047.21,208.34 L3083.7,292.85 L3081.48,302.45 L3058.58,252.96 L3054.15,242.62 Z" fill="#1a1f24"/>
<path d="M3038.64,250.74 L3057.84,252.22 L3058.58,256.65 L3038.64,259.61 Z" fill="#1a1f24"/>
<circle cx="2988.11" cy="207.46" r="2.8" fill="#1a1f24"/>
<text transform="translate(2976.12,392) scale(0.8995,1)" font-size="46.09" font-weight="bold" font-style="normal" fill="#1a1f24" >www.astrolinos.de</text>
<g transform="translate(3420.5,2366) rotate(-90)"><text transform="translate(-0.55,0) scale(0.9758,1)" font-size="37.35" font-weight="normal" font-style="normal" fill="#222" >© 2022, ASTROlinos</text></g>
</svg></body></html>
